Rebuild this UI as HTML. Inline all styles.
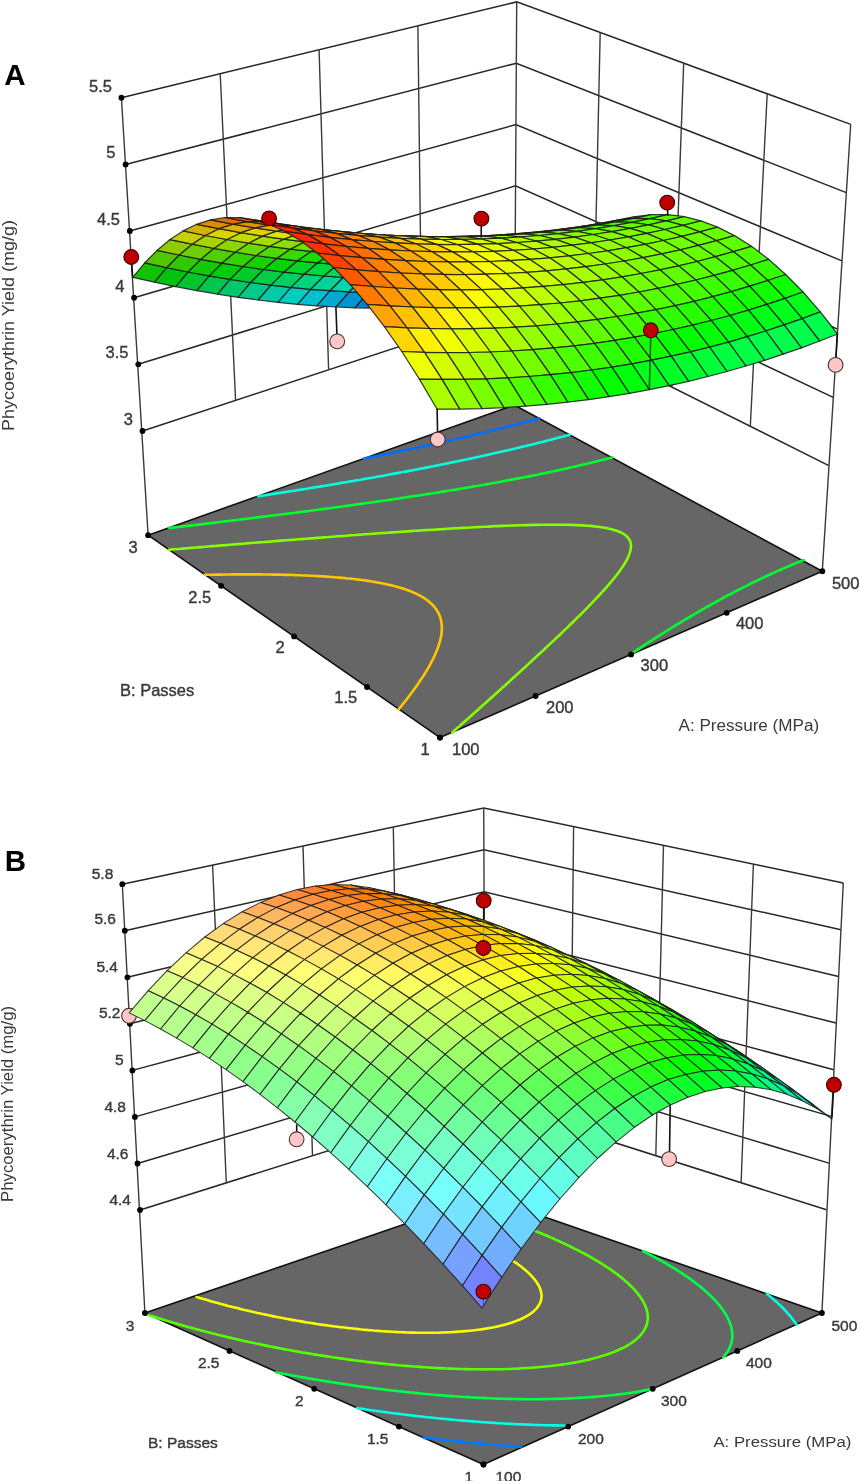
<!DOCTYPE html>
<html><head><meta charset="utf-8"><style>
html,body{margin:0;padding:0;background:#fff;}
body{width:860px;height:1481px;overflow:hidden;}
svg{display:block;font-family:"Liberation Sans",sans-serif;filter:blur(0.4px);}
</style></head><body><svg width="860" height="1481" viewBox="0 0 860 1481"><path d="M142.5 431L514.7 308.6L828.8 465.6M138.3 364.3L515.1 247.3L833.2 397.4M134.1 297.7L515.5 185.9L837.6 329.1M129.8 231L515.9 124.6L841.9 260.9M125.6 164.4L516.3 63.2L846.3 192.6M121.4 97.7L516.7 1.9L850.7 124.4" stroke="#262626" stroke-width="1.5" fill="none"/><path d="M220.2 73.8L235.6 400.4M600.2 32.5L593.2 347.9M319.1 49.8L328.6 369.8M683.7 63.1L671.8 387.1M417.9 25.9L421.7 339.2M767.2 93.8L750.3 426.4M121.4 97.7L148.1 535.2M516.7 1.9L514.2 405M850.7 124.4L822.3 571.2" stroke="#3a3a3a" stroke-width="1.4" fill="none"/><polygon points="440,737.6 822.3,571.2 514.2,405 148.1,535.2" fill="#666666" stroke="#111" stroke-width="1.6" stroke-linejoin="round"/><path d="M364.3 458.6L363.7 458.7M367.9 457.8L364.3 458.6M371.5 457.1L367.9 457.8M375.1 456.4L371.5 457.1M378.6 455.7L377.1 456M377.1 456L375.1 456.4M382.2 455L378.6 455.7M385.8 454.3L382.2 455M389.3 453.5L385.8 454.3M392.9 452.8L390.8 453.2M390.8 453.2L389.3 453.5M396.4 452.1L392.9 452.8M399.9 451.3L396.4 452.1M403.4 450.6L399.9 451.3M407 449.9L404.8 450.3M404.8 450.3L403.4 450.6M410.5 449.1L407 449.9M413.9 448.4L410.5 449.1M417.4 447.6L413.9 448.4M420.9 446.9L419.3 447.2M419.3 447.2L417.4 447.6M424.3 446.2L420.9 446.9M427.8 445.4L424.3 446.2M431.2 444.6L427.8 445.4M434.7 443.9L434.2 444M434.2 444L431.2 444.6M438.1 443.1L434.7 443.9M441.5 442.4L438.1 443.1M444.9 441.6L441.5 442.4M448.3 440.8L444.9 441.6M451.7 440.1L449.8 440.5M449.8 440.5L448.3 440.8M455.1 439.3L451.7 440.1M458.4 438.5L455.1 439.3M461.8 437.8L458.4 438.5M465.1 437L461.8 437.8M468.4 436.2L466 436.8M466 436.8L465.1 437M471.8 435.4L468.4 436.2M475.1 434.6L471.8 435.4M478.4 433.8L475.1 434.6M481.7 433L478.4 433.8M485 432.3L483.1 432.7M483.1 432.7L481.7 433M488.2 431.5L485 432.3M491.5 430.7L488.2 431.5M494.7 429.9L491.5 430.7M498 429.1L494.7 429.9M501.2 428.2L498 429.1M504.4 427.4L501.3 428.2M501.3 428.2L501.2 428.2M507.7 426.6L504.4 427.4M510.9 425.8L507.7 426.6M514 425L510.9 425.8M517.2 424.2L514 425M520.4 423.4L517.2 424.2M523.6 422.5L521 423.2M521 423.2L520.4 423.4M526.7 421.7L523.6 422.5M529.8 420.9L526.7 421.7M533 420L529.8 420.9M536.1 419.2L533 420M539.2 418.4L536.1 419.2" stroke="#006dff" stroke-width="2.6" fill="none" stroke-linecap="round"/><path d="M259.5 496.1L258.3 496.2M263.5 495.5L259.5 496.1M267.5 494.9L263.5 495.5M271.5 494.2L268.9 494.6M268.9 494.6L267.5 494.9M275.4 493.6L271.5 494.2M279.4 493L275.4 493.6M283.3 492.4L279.6 493M279.6 493L279.4 493M287.3 491.8L283.3 492.4M291.2 491.2L290.4 491.3M290.4 491.3L287.3 491.8M295.1 490.6L291.2 491.2M299.1 489.9L295.1 490.6M303 489.3L301.3 489.6M301.3 489.6L299.1 489.9M306.9 488.7L303 489.3M310.8 488L306.9 488.7M314.7 487.4L312.3 487.8M312.3 487.8L310.8 488M318.6 486.8L314.7 487.4M322.4 486.1L318.6 486.8M326.3 485.5L323.4 486M323.4 486L322.4 486.1M330.2 484.9L326.3 485.5M334 484.2L330.2 484.9M337.9 483.6L334.6 484.1M334.6 484.1L334 484.2M341.7 482.9L337.9 483.6M345.5 482.3L341.7 482.9M349.3 481.6L346 482.2M346 482.2L345.5 482.3M353.1 481L349.3 481.6M356.9 480.3L353.1 481M360.7 479.7L357.5 480.2M357.5 480.2L356.9 480.3M364.5 479L360.7 479.7M368.3 478.3L364.5 479M372.1 477.7L369.1 478.2M369.1 478.2L368.3 478.3M375.8 477L372.1 477.7M379.6 476.3L375.8 477M383.3 475.7L381 476.1M381 476.1L379.6 476.3M387 475L383.3 475.7M390.8 474.3L387 475M394.5 473.6L393 473.9M393 473.9L390.8 474.3M398.2 472.9L394.5 473.6M401.9 472.3L398.2 472.9M405.5 471.6L405.3 471.6M405.3 471.6L401.9 472.3M409.2 470.9L405.5 471.6M412.9 470.2L409.2 470.9M416.5 469.5L412.9 470.2M420.2 468.8L417.8 469.2M417.8 469.2L416.5 469.5M423.8 468.1L420.2 468.8M427.4 467.4L423.8 468.1M431 466.7L430.6 466.7M430.6 466.7L427.4 467.4M434.7 465.9L431 466.7M438.3 465.2L434.7 465.9M441.8 464.5L438.3 465.2M445.4 463.8L443.8 464.1M443.8 464.1L441.8 464.5M449 463.1L445.4 463.8M452.5 462.3L449 463.1M456.1 461.6L452.5 462.3M459.6 460.9L457.3 461.3M457.3 461.3L456.1 461.6M463.1 460.1L459.6 460.9M466.6 459.4L463.1 460.1M470.1 458.6L466.6 459.4M473.6 457.9L471.3 458.4M471.3 458.4L470.1 458.6M477.1 457.1L473.6 457.9M480.6 456.4L477.1 457.1M484 455.6L480.6 456.4M487.5 454.9L485.8 455.2M485.8 455.2L484 455.6M490.9 454.1L487.5 454.9M494.3 453.3L490.9 454.1M497.7 452.6L494.3 453.3M501.1 451.8L501 451.8M501 451.8L497.7 452.6M504.5 451L501.1 451.8M507.9 450.2L504.5 451M511.3 449.5L507.9 450.2M514.6 448.7L511.3 449.5M518 447.9L517 448.1M517 448.1L514.6 448.7M521.3 447.1L518 447.9M524.6 446.3L521.3 447.1M527.9 445.5L524.6 446.3M531.2 444.7L527.9 445.5M534.5 443.9L534.1 444M534.1 444L531.2 444.7M537.8 443.1L534.5 443.9M541 442.3L537.8 443.1M544.3 441.4L541 442.3M547.5 440.6L544.3 441.4M550.7 439.8L547.5 440.6M553.9 439L552.6 439.3M552.6 439.3L550.7 439.8M557.1 438.1L553.9 439M560.3 437.3L557.1 438.1M563.5 436.5L560.3 437.3M566.7 435.6L563.5 436.5M569.8 434.8L566.7 435.6" stroke="#00ffdf" stroke-width="2.6" fill="none" stroke-linecap="round"/><path d="M172.5 527.6L169.4 527.9M176.8 527.1L172.5 527.6M181.1 526.6L178.6 526.9M178.6 526.9L176.8 527.1M185.4 526.1L181.1 526.6M189.7 525.6L187.9 525.8M187.9 525.8L185.4 526.1M194 525.1L189.7 525.6M198.3 524.6L197.1 524.7M197.1 524.7L194 525.1M202.5 524.1L198.3 524.6M206.8 523.6L206.4 523.6M206.4 523.6L202.5 524.1M211.1 523.1L206.8 523.6M215.4 522.6L211.1 523.1M219.6 522L215.7 522.5M215.7 522.5L215.4 522.6M223.9 521.5L219.6 522M228.1 521L225 521.4M225 521.4L223.9 521.5M232.4 520.5L228.1 521M236.6 520L234.3 520.3M234.3 520.3L232.4 520.5M240.8 519.5L236.6 520M245.1 519L243.7 519.1M243.7 519.1L240.8 519.5M249.3 518.5L245.1 519M253.5 517.9L253.1 518M253.1 518L249.3 518.5M257.7 517.4L253.5 517.9M261.9 516.9L257.7 517.4M266.1 516.4L262.5 516.8M262.5 516.8L261.9 516.9M270.3 515.8L266.1 516.4M274.5 515.3L271.9 515.6M271.9 515.6L270.3 515.8M278.7 514.8L274.5 515.3M282.9 514.3L281.4 514.5M281.4 514.5L278.7 514.8M287.1 513.7L282.9 514.3M291.2 513.2L290.9 513.2M290.9 513.2L287.1 513.7M295.4 512.7L291.2 513.2M299.5 512.1L295.4 512.7M303.7 511.6L300.4 512M300.4 512L299.5 512.1M307.8 511.1L303.7 511.6M312 510.5L310 510.8M310 510.8L307.8 511.1M316.1 510L312 510.5M320.2 509.4L319.6 509.5M319.6 509.5L316.1 510M324.3 508.9L320.2 509.4M328.4 508.3L324.3 508.9M332.5 507.8L329.3 508.2M329.3 508.2L328.4 508.3M336.6 507.2L332.5 507.8M340.7 506.7L339 506.9M339 506.9L336.6 507.2M344.8 506.1L340.7 506.7M348.9 505.6L348.8 505.6M348.8 505.6L344.8 506.1M352.9 505L348.9 505.6M357 504.4L352.9 505M361 503.9L358.6 504.2M358.6 504.2L357 504.4M365.1 503.3L361 503.9M369.1 502.7L368.5 502.8M368.5 502.8L365.1 503.3M373.1 502.2L369.1 502.7M377.2 501.6L373.1 502.2M630.1 654.6L631.6 653.6M381.2 501L378.5 501.4M378.5 501.4L377.2 501.6M634.2 651.8L631.6 653.6M385.2 500.5L381.2 501M636.9 650.1L634.2 651.8M389.2 499.9L388.5 500M388.5 500L385.2 500.5M639.5 648.4L636.9 650.1M393.2 499.3L389.2 499.9M642.1 646.6L639.5 648.4M397.1 498.7L393.2 499.3M643.4 645.8L642.1 646.6M643.4 645.8L644.7 644.9M401.1 498.1L398.7 498.5M398.7 498.5L397.1 498.7M647.4 643.2L644.7 644.9M405.1 497.5L401.1 498.1M650 641.5L647.4 643.2M409 496.9L408.9 496.9M408.9 496.9L405.1 497.5M652.6 639.8L650 641.5M413 496.3L409 496.9M655.3 638.1L652.6 639.8M416.9 495.7L413 496.3M657.7 636.6L655.3 638.1M657.7 636.6L657.9 636.5M420.8 495.1L419.3 495.4M419.3 495.4L416.9 495.7M660.5 634.8L657.9 636.5M424.7 494.5L420.8 495.1M663.2 633.1L660.5 634.8M428.6 493.9L424.7 494.5M665.8 631.5L663.2 633.1M432.5 493.3L429.7 493.7M429.7 493.7L428.6 493.9M668.4 629.8L665.8 631.5M436.4 492.7L432.5 493.3M671.1 628.2L668.4 629.8M440.3 492.1L436.4 492.7M673.1 627L671.1 628.2M673.1 627L673.7 626.6M444.2 491.4L440.3 492.1M440.3 492.1L440.3 492.1M676.4 624.9L673.7 626.6M448 490.8L444.2 491.4M679 623.3L676.4 624.9M451.9 490.2L451.1 490.3M451.1 490.3L448 490.8M681.7 621.7L679 623.3M455.7 489.6L451.9 490.2M684.3 620.1L681.7 621.7M459.5 488.9L455.7 489.6M687 618.5L684.3 620.1M463.4 488.3L462 488.5M462 488.5L459.5 488.9M689.7 617L687 618.5M467.2 487.6L463.4 488.3M690.4 616.5L689.7 617M690.4 616.5L692.3 615.4M471 487L467.2 487.6M695 613.8L692.3 615.4M474.7 486.3L473.1 486.6M473.1 486.6L471 487M697.6 612.3L695 613.8M478.5 485.7L474.7 486.3M700.3 610.7L697.6 612.3M482.3 485L478.5 485.7M703 609.2L700.3 610.7M486 484.4L484.4 484.7M484.4 484.7L482.3 485M705.7 607.7L703 609.2M489.8 483.7L486 484.4M708.4 606.1L705.7 607.7M493.5 483L489.8 483.7M710.8 604.8L708.4 606.1M710.8 604.8L711.1 604.6M497.2 482.4L496 482.6M496 482.6L493.5 483M713.8 603.1L711.1 604.6M500.9 481.7L497.2 482.4M716.5 601.6L713.8 603.1M504.6 481L500.9 481.7M719.2 600.1L716.5 601.6M508.3 480.3L507.8 480.4M507.8 480.4L504.6 481M721.9 598.7L719.2 600.1M511.9 479.6L508.3 480.3M724.6 597.2L721.9 598.7M515.6 478.9L511.9 479.6M727.3 595.7L724.6 597.2M519.2 478.2L515.6 478.9M730 594.3L727.3 595.7M522.9 477.5L520.1 478.1M520.1 478.1L519.2 478.2M732.8 592.9L730 594.3M526.5 476.8L522.9 477.5M735.5 591.4L732.8 592.9M530.1 476.1L526.5 476.8M738.2 590L735.5 591.4M738.2 590L738.3 590M533.7 475.4L532.7 475.6M532.7 475.6L530.1 476.1M741 588.6L738.3 590M537.2 474.7L533.7 475.4M743.8 587.2L741 588.6M540.8 473.9L537.2 474.7M746.6 585.8L743.8 587.2M544.3 473.2L540.8 473.9M749.3 584.4L746.6 585.8M547.9 472.5L545.8 472.9M545.8 472.9L544.3 473.2M752.1 583L749.3 584.4M551.4 471.7L547.9 472.5M754.9 581.7L752.1 583M554.9 471L551.4 471.7M757.7 580.3L754.9 581.7M558.4 470.2L554.9 471M760.5 579L757.7 580.3M561.8 469.4L559.6 469.9M559.6 469.9L558.4 470.2M763.3 577.6L760.5 579M565.3 468.7L561.8 469.4M766.1 576.3L763.3 577.6M568.7 467.9L565.3 468.7M769 575L766.1 576.3M572.2 467.1L568.7 467.9M771.8 573.7L769 575M575.6 466.4L574.2 466.7M574.2 466.7L572.2 467.1M774.6 572.4L771.8 573.7M579 465.6L575.6 466.4M777.5 571.1L774.6 572.4M582.4 464.8L579 465.6M780.4 569.8L777.5 571.1M585.7 464L582.4 464.8M783.2 568.6L780.4 569.8M589.1 463.2L585.7 464M786.1 567.3L783.2 568.6M592.4 462.4L589.9 463M589.9 463L589.1 463.2M789 566.1L786.1 567.3M595.7 461.6L592.4 462.4M791.9 564.8L789 566.1M599 460.7L595.7 461.6M794.8 563.6L791.9 564.8M602.3 459.9L599 460.7M797.7 562.4L794.8 563.6M605.6 459.1L602.3 459.9M800.7 561.2L797.7 562.4M608.8 458.2L607.2 458.7M607.2 458.7L605.6 459.1M803.6 560L800.7 561.2M612.1 457.4L608.8 458.2" stroke="#00ff2d" stroke-width="2.6" fill="none" stroke-linecap="round"/><path d="M173.6 549.3L172.4 549.4M172.4 549.4L169 549.7M178.1 549L173.6 549.3M182.7 548.6L180.6 548.8M180.6 548.8L178.1 549M452.3 732.5L453.4 731.5M187.3 548.2L182.7 548.6M455.9 729.3L453.4 731.5M191.9 547.8L188.8 548.1M188.8 548.1L187.3 548.2M458.5 727L455.9 729.3M196.4 547.5L191.9 547.8M459.2 726.4L458.5 727M459.2 726.4L461 724.8M201 547.1L196.9 547.4M196.9 547.4L196.4 547.5M463.5 722.6L461 724.8M205.6 546.7L205.1 546.8M205.1 546.8L201 547.1M466 720.4L463.5 722.6M210.1 546.3L205.6 546.7M466.1 720.2L466 720.4M466.1 720.2L468.4 718.2M214.7 546L213.2 546.1M213.2 546.1L210.1 546.3M470.9 716L468.4 718.2M219.3 545.6L214.7 546M472.9 714.2L470.9 716M472.9 714.2L473.4 713.8M223.8 545.2L221.4 545.4M221.4 545.4L219.3 545.6M475.8 711.6L473.4 713.8M228.4 544.9L223.8 545.2M478.3 709.4L475.8 711.6M232.9 544.5L229.5 544.8M229.5 544.8L228.4 544.9M479.6 708.2L478.3 709.4M479.6 708.2L480.7 707.2M237.5 544.1L232.9 544.5M483.1 705L480.7 707.2M242 543.8L237.5 544.1M237.5 544.1L237.5 544.1M485.6 702.9L483.1 705M246.6 543.4L245.6 543.5M245.6 543.5L242 543.8M486.3 702.3L485.6 702.9M486.3 702.3L488 700.7M251.2 543L246.6 543.4M490.4 698.5L488 700.7M255.7 542.7L253.7 542.8M253.7 542.8L251.2 543M492.8 696.4L490.4 698.5M260.3 542.3L255.7 542.7M492.8 696.4L492.8 696.4M492.8 696.4L495.2 694.2M264.8 542L261.7 542.2M261.7 542.2L260.3 542.3M497.6 692.1L495.2 694.2M269.4 541.6L264.8 542M499.3 690.6L497.6 692.1M499.3 690.6L499.9 689.9M273.9 541.2L269.7 541.6M269.7 541.6L269.4 541.6M502.3 687.8L499.9 689.9M278.5 540.9L277.7 540.9M277.7 540.9L273.9 541.2M504.7 685.7L502.3 687.8M283 540.5L278.5 540.9M505.7 684.8L504.7 685.7M505.7 684.8L507 683.5M287.5 540.2L285.7 540.3M285.7 540.3L283 540.5M509.4 681.4L507 683.5M292.1 539.8L287.5 540.2M511.7 679.3L509.4 681.4M296.6 539.5L293.7 539.7M293.7 539.7L292.1 539.8M511.9 679.1L511.7 679.3M511.9 679.1L514 677.2M301.2 539.1L296.6 539.5M516.3 675.1L514 677.2M305.7 538.8L301.7 539.1M301.7 539.1L301.2 539.1M518.1 673.5L516.3 675.1M518.1 673.5L518.7 673M310.3 538.4L309.6 538.5M309.6 538.5L305.7 538.8M521 670.9L518.7 673M314.8 538.1L310.3 538.4M523.3 668.8L521 670.9M319.4 537.7L317.5 537.8M317.5 537.8L314.8 538.1M524.2 667.9L523.3 668.8M524.2 667.9L525.5 666.7M323.9 537.4L319.4 537.7M527.8 664.6L525.5 666.7M328.5 537L325.4 537.2M325.4 537.2L323.9 537.4M530.1 662.5L527.8 664.6M333 536.7L328.5 537M530.2 662.4L530.1 662.5M530.2 662.4L532.3 660.4M337.5 536.3L333.3 536.7M333.3 536.7L333 536.7M534.6 658.3L532.3 660.4M342.1 536L341.1 536.1M341.1 536.1L337.5 536.3M536.1 656.9L534.6 658.3M536.1 656.9L536.8 656.3M346.6 535.7L342.1 536M539.1 654.2L536.8 656.3M351.2 535.3L348.9 535.5M348.9 535.5L346.6 535.7M541.3 652.1L539.1 654.2M355.7 535L351.2 535.3M542 651.5L541.3 652.1M542 651.5L543.5 650.1M360.3 534.7L356.7 534.9M356.7 534.9L355.7 535M545.7 648L543.5 650.1M364.8 534.3L364.5 534.3M364.5 534.3L360.3 534.7M547.6 646.2L545.7 648M547.6 646.2L547.9 645.9M369.4 534L364.8 534.3M550.1 643.9L547.9 645.9M373.9 533.7L372.3 533.8M372.3 533.8L369.4 534M552.3 641.8L550.1 643.9M378.5 533.3L373.9 533.7M553.2 640.9L552.3 641.8M553.2 640.9L554.5 639.8M383 533L380 533.2M380 533.2L378.5 533.3M556.6 637.7L554.5 639.8M387.6 532.7L383 533M558.7 635.8L556.6 637.7M558.7 635.8L558.8 635.7M392.1 532.4L387.7 532.7M387.7 532.7L387.6 532.7M560.9 633.7L558.8 635.7M396.7 532.1L395.4 532.2M395.4 532.2L392.1 532.4M563 631.6L560.9 633.7M401.2 531.8L396.7 532.1M564.1 630.6L563 631.6M564.1 630.6L565.1 629.6M405.8 531.5L403 531.6M403 531.6L401.2 531.8M567.2 627.6L565.1 629.6M410.4 531.1L405.8 531.5M569.3 625.6L567.2 627.6M569.3 625.6L569.4 625.5M414.9 530.8L410.6 531.1M410.6 531.1L410.4 531.1M571.4 623.5L569.4 625.5M419.5 530.5L418.2 530.6M418.2 530.6L414.9 530.8M573.5 621.5L571.4 623.5M424.1 530.2L419.5 530.5M574.4 620.6L573.5 621.5M574.4 620.6L575.6 619.4M428.6 530L425.7 530.1M425.7 530.1L424.1 530.2M577.6 617.4L575.6 619.4M433.2 529.7L428.6 530M579.3 615.7L577.6 617.4M579.3 615.7L579.7 615.4M437.8 529.4L433.2 529.7M433.2 529.7L433.2 529.7M581.7 613.4L579.7 615.4M442.4 529.1L440.7 529.2M440.7 529.2L437.8 529.4M583.7 611.4L581.7 613.4M447 528.8L442.4 529.1M584.2 610.9L583.7 611.4M584.2 610.9L585.7 609.3M451.6 528.5L448.1 528.7M448.1 528.7L447 528.8M587.7 607.3L585.7 609.3M456.2 528.3L455.5 528.3M455.5 528.3L451.6 528.5M588.8 606.2L587.7 607.3M588.8 606.2L589.6 605.3M460.8 528L456.2 528.3M591.6 603.3L589.6 605.3M465.4 527.7L462.8 527.9M462.8 527.9L460.8 528M593.3 601.5L591.6 603.3M593.3 601.5L593.5 601.3M470.1 527.5L465.4 527.7M595.5 599.2L593.5 601.3M474.7 527.2L470.1 527.5M470.1 527.5L470.1 527.5M597.4 597.2L595.5 599.2M479.3 527L477.3 527.1M477.3 527.1L474.7 527.2M597.6 597L597.4 597.2M597.6 597L599.3 595.2M484 526.8L479.3 527M601.1 593.2L599.3 595.2M488.7 526.6L484.5 526.7M484.5 526.7L484 526.8M601.7 592.5L601.1 593.2M601.7 592.5L603 591.1M493.3 526.3L491.6 526.4M491.6 526.4L488.7 526.6M604.8 589.1L603 591.1M498 526.1L493.3 526.3M605.7 588.2L604.8 589.1M605.7 588.2L606.6 587.1M502.7 525.9L498.7 526.1M498.7 526.1L498 526.1M608.4 585L606.6 587.1M507.5 525.7L505.7 525.8M505.7 525.8L502.7 525.9M609.4 583.9L608.4 585M609.4 583.9L610.1 583M512.2 525.5L507.5 525.7M611.9 580.9L610.1 583M517 525.4L512.6 525.5M512.6 525.5L512.2 525.5M612.8 579.8L611.9 580.9M612.8 579.8L613.6 578.8M521.8 525.2L519.4 525.3M519.4 525.3L517 525.4M615.2 576.8L613.6 578.8M526.5 525.1L526.2 525.1M526.2 525.1L521.8 525.2M616.1 575.7L615.2 576.8M616.1 575.7L616.9 574.7M531.4 525L526.5 525.1M618.5 572.6L616.9 574.7M536.3 524.9L532.8 524.9M532.8 524.9L531.4 525M619 571.8L618.5 572.6M619 571.8L620 570.4M541.2 524.8L539.4 524.8M539.4 524.8L536.3 524.9M621.5 568.3L620 570.4M546.1 524.7L545.8 524.7M545.8 524.7L541.2 524.8M621.7 568.1L621.5 568.3M621.7 568.1L623 566.1M551.1 524.7L546.1 524.7M624.1 564.4L623 566.1M624.1 564.4L624.4 564M556.1 524.7L552.2 524.7M552.2 524.7L551.1 524.7M625.7 561.7L624.4 564M561.2 524.7L558.4 524.7M558.4 524.7L556.1 524.7M626.2 561L625.7 561.7M626.2 561L626.9 559.5M566.4 524.8L564.4 524.8M564.4 524.8L561.2 524.7M627.9 557.6L626.9 559.5M627.9 557.6L628.1 557.2M571.7 524.9L570.3 524.9M570.3 524.9L566.4 524.8M629.1 554.8L628.1 557.2M577.1 525.1L576.1 525.1M576.1 525.1L571.7 524.9M629.2 554.4L629.1 554.8M629.2 554.4L629.9 552.4M582.6 525.4L581.6 525.4M581.6 525.4L577.1 525.1M630.2 551.4L629.9 552.4M630.2 551.4L630.6 549.8M588.4 525.8L587 525.7M587 525.7L582.6 525.4M630.8 548.6L630.6 549.8M630.8 548.6L630.9 547.1M594.4 526.4L592.2 526.1M592.2 526.1L588.4 525.8M631 545.9L630.9 547.1M631 545.9L630.8 544.1M600.8 527.2L597.1 526.7M597.1 526.7L594.4 526.4M630.8 543.5L630.8 544.1M630.8 543.5L630.1 541.2M630.1 541.2L629.9 540.7M608.2 528.5L606.1 528M606.1 528L601.7 527.3M601.7 527.3L600.8 527.2M629 539L629.9 540.7M629 539L627.5 537.1M627.5 537.1L625.9 535.6M618.6 531.5L617.5 531M617.5 531L614 529.9M614 529.9L610.2 528.9M610.2 528.9L608.2 528.5M625.6 535.3L625.9 535.6M625.6 535.3L623.3 533.7M623.3 533.7L620.6 532.3M620.6 532.3L618.6 531.5" stroke="#86ff00" stroke-width="2.6" fill="none" stroke-linecap="round"/><path d="M400.7 706.9L398.6 709.4M210.1 574.7L205.5 574.8M205.5 574.8L205.1 574.8M402 705.2L400.7 706.9M402 705.2L402.7 704.4M215.2 574.6L212.2 574.7M212.2 574.7L210.1 574.7M404.7 701.8L402.7 704.4M220.3 574.6L218.9 574.6M218.9 574.6L215.2 574.6M405.6 700.8L404.7 701.8M405.6 700.8L406.7 699.3M225.5 574.5L220.3 574.6M408.6 696.8L406.7 699.3M230.6 574.5L225.6 574.5M225.6 574.5L225.5 574.5M408.9 696.4L408.6 696.8M408.9 696.4L410.5 694.2M235.8 574.4L232.2 574.4M232.2 574.4L230.6 574.5M412.2 692L410.5 694.2M412.2 692L412.5 691.7M240.9 574.4L238.8 574.4M238.8 574.4L235.8 574.4M414.3 689.1L412.5 691.7M246.1 574.4L245.3 574.4M245.3 574.4L240.9 574.4M415.3 687.8L414.3 689.1M415.3 687.8L416.2 686.5M251.3 574.4L246.1 574.4M418 683.9L416.2 686.5M256.6 574.4L251.7 574.4M251.7 574.4L251.3 574.4M418.2 683.6L418 683.9M418.2 683.6L419.7 681.3M261.8 574.4L258.1 574.4M258.1 574.4L256.6 574.4M420.9 679.5L419.7 681.3M420.9 679.5L421.5 678.7M267.1 574.5L264.4 574.5M264.4 574.5L261.8 574.4M423.2 676.1L421.5 678.7M272.4 574.6L270.6 574.5M270.6 574.5L267.1 574.5M423.6 675.6L423.2 676.1M423.6 675.6L424.8 673.5M277.8 574.6L276.8 574.6M276.8 574.6L272.4 574.6M426 671.6L424.8 673.5M426 671.6L426.5 670.8M283.2 574.8L282.9 574.7M282.9 574.7L277.8 574.6M428 668.2L426.5 670.8M288.6 574.9L283.2 574.8M428.3 667.8L428 668.2M428.3 667.8L429.6 665.5M294 575L289 574.9M289 574.9L288.6 574.9M430.4 664.1L429.6 665.5M430.4 664.1L431 662.8M299.5 575.2L295 575.1M295 575.1L294 575M432.3 660.4L431 662.8M432.3 660.4L432.5 660.1M305.1 575.5L300.9 575.3M300.9 575.3L299.5 575.2M433.8 657.3L432.5 660.1M310.6 575.7L306.7 575.5M306.7 575.5L305.1 575.5M434.1 656.8L433.8 657.3M434.1 656.8L435.1 654.5M316.3 576L312.5 575.8M312.5 575.8L310.6 575.7M435.7 653.3L435.1 654.5M435.7 653.3L436.3 651.7M322 576.3L318.1 576.1M318.1 576.1L316.3 576M437.1 649.9L436.3 651.7M437.1 649.9L437.5 648.8M327.8 576.7L323.7 576.4M323.7 576.4L322 576.3M438.3 646.6L437.5 648.8M438.3 646.6L438.5 645.9M333.7 577.1L329.2 576.8M329.2 576.8L327.8 576.7M439.3 643.4L438.5 645.9M439.3 643.4L439.5 643M339.6 577.6L334.6 577.2M334.6 577.2L333.7 577.1M440.2 640.2L439.5 643M440.2 640.2L440.3 639.9M345.7 578.2L345.2 578.1M345.2 578.1L339.9 577.6M339.9 577.6L339.6 577.6M440.9 637.2L440.3 639.9M440.9 637.2L441 636.8M351.9 578.8L350.3 578.6M350.3 578.6L345.7 578.2M441.4 634.2L441 636.8M441.4 634.2L441.5 633.6M358.3 579.6L355.3 579.2M355.3 579.2L351.9 578.8M441.7 631.3L441.5 633.6M441.7 631.3L441.8 630.3M364.9 580.4L360.2 579.8M360.2 579.8L358.3 579.6M441.8 628.5L441.8 630.3M441.8 628.5L441.8 626.8M371.7 581.5L369.7 581.1M369.7 581.1L365 580.4M365 580.4L364.9 580.4M441.8 625.8L441.8 626.8M441.8 625.8L441.5 623.2M441.5 623.2L441.5 623.2M378.8 582.7L378.8 582.7M378.8 582.7L374.3 581.9M374.3 581.9L371.7 581.5M441.1 620.7L441.5 623.2M441.1 620.7L440.7 619.2M386.5 584.2L383.1 583.5M383.1 583.5L378.8 582.7M440.5 618.2L440.7 619.2M440.5 618.2L439.7 615.8M439.7 615.8L439.2 614.7M394.8 586.2L391.4 585.3M391.4 585.3L387.3 584.4M387.3 584.4L386.5 584.2M438.7 613.6L439.2 614.7M438.7 613.6L437.5 611.4M437.5 611.4L436.3 609.4M404.7 589.1L402.8 588.5M402.8 588.5L399.1 587.4M399.1 587.4L395.3 586.3M395.3 586.3L394.8 586.2M436.1 609.2L436.3 609.4M436.1 609.2L434.6 607.2M434.6 607.2L432.9 605.2M432.9 605.2L431 603.4M431 603.4L428.9 601.6M428.9 601.6L426.9 600M420.9 596.2L418.9 595.1M418.9 595.1L416 593.6M416 593.6L412.9 592.3M412.9 592.3L409.7 590.9M409.7 590.9L406.3 589.7M406.3 589.7L404.7 589.1M426.7 599.8L426.9 600M426.7 599.8L424.2 598.2M424.2 598.2L421.7 596.6M421.7 596.6L420.9 596.2" stroke="#ffc600" stroke-width="2.6" fill="none" stroke-linecap="round"/><g fill="#000"><circle cx="440" cy="737.6" r="2.9"/><circle cx="440" cy="737.6" r="2.9"/><circle cx="535.6" cy="696" r="2.9"/><circle cx="367" cy="687" r="2.9"/><circle cx="631.1" cy="654.4" r="2.9"/><circle cx="294.1" cy="636.4" r="2.9"/><circle cx="726.7" cy="612.8" r="2.9"/><circle cx="221.1" cy="585.8" r="2.9"/><circle cx="822.3" cy="571.2" r="2.9"/><circle cx="148.1" cy="535.2" r="2.9"/><circle cx="142.5" cy="431" r="2.9"/><circle cx="138.3" cy="364.3" r="2.9"/><circle cx="134.1" cy="297.7" r="2.9"/><circle cx="129.8" cy="231" r="2.9"/><circle cx="125.6" cy="164.4" r="2.9"/><circle cx="121.4" cy="97.7" r="2.9"/></g><g stroke="#1a1a1a" stroke-width="1.25" stroke-linejoin="round" stroke-opacity="0.85"><polygon points="511.9,285.5 529.1,283.1 514.8,299.4 497.8,301.7" fill="#0000e1"/><polygon points="494.7,287.6 511.9,285.5 497.8,301.7 480.6,303.6" fill="#0004df"/><polygon points="526.3,271 543.5,268.4 529.1,283.1 511.9,285.5" fill="#004fe7"/><polygon points="477.2,289.3 494.7,287.6 480.6,303.6 463.3,305.2" fill="#0013de"/><polygon points="508.9,273.1 526.3,271 511.9,285.5 494.7,287.6" fill="#005be5"/><polygon points="459.5,290.7 477.2,289.3 463.3,305.2 445.7,306.5" fill="#0022dc"/><polygon points="541,258 558.3,255.4 543.5,268.4 526.3,271" fill="#00a4ed"/><polygon points="491.4,275 508.9,273.1 494.7,287.6 477.2,289.3" fill="#0068e3"/><polygon points="441.7,291.8 459.5,290.7 445.7,306.5 427.9,307.4" fill="#0033da"/><polygon points="523.5,260.4 541,258 526.3,271 508.9,273.1" fill="#00afeb"/><polygon points="473.6,276.5 491.4,275 477.2,289.3 459.5,290.7" fill="#0077e2"/><polygon points="423.6,292.5 441.7,291.8 427.9,307.4 410,308.1" fill="#0044d9"/><polygon points="555.9,246.8 573.2,244 558.3,255.4 541,258" fill="#00f4f2"/><polygon points="505.8,262.4 523.5,260.4 508.9,273.1 491.4,275" fill="#00bbe9"/><polygon points="455.7,277.7 473.6,276.5 459.5,290.7 441.7,291.8" fill="#0086e0"/><polygon points="405.3,292.8 423.6,292.5 410,308.1 391.8,308.3" fill="#0057d7"/><polygon points="538.3,249.3 555.9,246.8 541,258 523.5,260.4" fill="#00f2e4"/><polygon points="488,264 505.8,262.4 491.4,275 473.6,276.5" fill="#00c9e8"/><polygon points="437.5,278.5 455.7,277.7 441.7,291.8 423.6,292.5" fill="#0097de"/><polygon points="571,237.4 588.5,234.4 573.2,244 555.9,246.8" fill="#00fcb2"/><polygon points="386.8,292.9 405.3,292.8 391.8,308.3 373.4,308.2" fill="#006ad5"/><polygon points="520.6,251.4 538.3,249.3 523.5,260.4 505.8,262.4" fill="#00f0d5"/><polygon points="469.9,265.3 488,264 473.6,276.5 455.7,277.7" fill="#00d8e6"/><polygon points="419.1,279 437.5,278.5 423.6,292.5 405.3,292.8" fill="#00a9dc"/><polygon points="553.4,240 571,237.4 555.9,246.8 538.3,249.3" fill="#00faa5"/><polygon points="368.1,292.5 386.8,292.9 373.4,308.2 354.8,307.8" fill="#007fd4"/><polygon points="502.6,253.3 520.6,251.4 505.8,262.4 488,264" fill="#00efc5"/><polygon points="586.4,229.7 603.9,226.6 588.5,234.4 571,237.4" fill="#00ff74"/><polygon points="451.7,266.3 469.9,265.3 455.7,277.7 437.5,278.5" fill="#00e4e1"/><polygon points="535.6,242.3 553.4,240 538.3,249.3 520.6,251.4" fill="#00f897"/><polygon points="400.5,279.1 419.1,279 405.3,292.8 386.8,292.9" fill="#00bbdb"/><polygon points="484.5,254.7 502.6,253.3 488,264 469.9,265.3" fill="#00edb3"/><polygon points="349.1,291.8 368.1,292.5 354.8,307.8 335.9,307" fill="#0094d2"/><polygon points="568.7,232.6 586.4,229.7 571,237.4 553.4,240" fill="#00ff69"/><polygon points="433.2,266.9 451.7,266.3 437.5,278.5 419.1,279" fill="#00e2cd"/><polygon points="517.5,244.3 535.6,242.3 520.6,251.4 502.6,253.3" fill="#00f687"/><polygon points="381.7,278.9 400.5,279.1 386.8,292.9 368.1,292.5" fill="#00cfd9"/><polygon points="602,224 619.6,220.6 603.9,226.6 586.4,229.7" fill="#00ff3b"/><polygon points="466.2,255.8 484.5,254.7 469.9,265.3 451.7,266.3" fill="#00eba1"/><polygon points="329.9,290.7 349.1,291.8 335.9,307 316.8,305.8" fill="#00aad0"/><polygon points="550.8,235.1 568.7,232.6 553.4,240 535.6,242.3" fill="#00ff5c"/><polygon points="414.5,267.2 433.2,266.9 419.1,279 400.5,279.1" fill="#00e1b7"/><polygon points="499.3,245.9 517.5,244.3 502.6,253.3 484.5,254.7" fill="#00f477"/><polygon points="584.2,227 602,224 586.4,229.7 568.7,232.6" fill="#00ff31"/><polygon points="362.6,278.3 381.7,278.9 368.1,292.5 349.1,291.8" fill="#00d7cb"/><polygon points="447.6,256.6 466.2,255.8 451.7,266.3 433.2,266.9" fill="#00e98d"/><polygon points="532.7,237.2 550.8,235.1 535.6,242.3 517.5,244.3" fill="#00ff4e"/><polygon points="310.5,289.3 329.9,290.7 316.8,305.8 297.5,304.3" fill="#00c1cf"/><polygon points="617.8,220.2 635.5,216.6 619.6,220.6 602,224" fill="#00ff0b"/><polygon points="395.6,267.1 414.5,267.2 400.5,279.1 381.7,278.9" fill="#00dfa1"/><polygon points="480.9,247.2 499.3,245.9 484.5,254.7 466.2,255.8" fill="#00f265"/><polygon points="566.3,229.7 584.2,227 568.7,232.6 550.8,235.1" fill="#00ff25"/><polygon points="343.3,277.3 362.6,278.3 349.1,291.8 329.9,290.7" fill="#00d6b2"/><polygon points="428.8,257 447.6,256.6 433.2,266.9 414.5,267.2" fill="#00e778"/><polygon points="514.4,239 532.7,237.2 517.5,244.3 499.3,245.9" fill="#00fd3e"/><polygon points="600,223.4 617.8,220.2 602,224 584.2,227" fill="#00ff02"/><polygon points="290.8,287.4 310.5,289.3 297.5,304.3 277.9,302.3" fill="#00cdc1"/><polygon points="376.5,266.6 395.6,267.1 381.7,278.9 362.6,278.3" fill="#00dd8a"/><polygon points="462.3,248.1 480.9,247.2 466.2,255.8 447.6,256.6" fill="#00f052"/><polygon points="633.8,218.4 651.5,214.6 635.5,216.6 617.8,220.2" fill="#1cff00"/><polygon points="548.1,232.1 566.3,229.7 550.8,235.1 532.7,237.2" fill="#00ff18"/><polygon points="323.8,276 343.3,277.3 329.9,290.7 310.5,289.3" fill="#00d498"/><polygon points="409.8,257 428.8,257 414.5,267.2 395.6,267.1" fill="#00e563"/><polygon points="582,226.3 600,223.4 584.2,227 566.3,229.7" fill="#09ff00"/><polygon points="495.9,240.5 514.4,239 499.3,245.9 480.9,247.2" fill="#00fb2d"/><polygon points="270.8,285.1 290.8,287.4 277.9,302.3 258,300" fill="#00cba5"/><polygon points="615.9,221.8 633.8,218.4 617.8,220.2 600,223.4" fill="#25ff00"/><polygon points="357.1,265.7 376.5,266.6 362.6,278.3 343.3,277.3" fill="#00db71"/><polygon points="529.7,234.1 548.1,232.1 532.7,237.2 514.4,239" fill="#00ff0a"/><polygon points="443.4,248.7 462.3,248.1 447.6,256.6 428.8,257" fill="#00ef3e"/><polygon points="650,218.6 667.8,214.6 651.5,214.6 633.8,218.4" fill="#3cff00"/><polygon points="304,274.2 323.8,276 310.5,289.3 290.8,287.4" fill="#00d27e"/><polygon points="563.7,228.9 582,226.3 566.3,229.7 548.1,232.1" fill="#15ff00"/><polygon points="390.6,256.7 409.8,257 395.6,267.1 376.5,266.6" fill="#00e44c"/><polygon points="477.2,241.6 495.9,240.5 480.9,247.2 462.3,248.1" fill="#00f91a"/><polygon points="597.9,224.9 615.9,221.8 600,223.4 582,226.3" fill="#2fff00"/><polygon points="250.5,282.5 270.8,285.1 258,300 237.9,297.3" fill="#00ca89"/><polygon points="511.2,235.7 529.7,234.1 514.4,239 495.9,240.5" fill="#07ff00"/><polygon points="337.4,264.5 357.1,265.7 343.3,277.3 323.8,276" fill="#00da58"/><polygon points="424.3,248.9 443.4,248.7 428.8,257 409.8,257" fill="#00ed28"/><polygon points="632.1,222.3 650,218.6 633.8,218.4 615.9,221.8" fill="#44ff00"/><polygon points="545.3,231.1 563.7,228.9 548.1,232.1 529.7,234.1" fill="#23ff00"/><polygon points="458.3,242.3 477.2,241.6 462.3,248.1 443.4,248.7" fill="#00f707"/><polygon points="283.9,272.1 304,274.2 290.8,287.4 270.8,285.1" fill="#00d062"/><polygon points="371.1,256 390.6,256.7 376.5,266.6 357.1,265.7" fill="#00e234"/><polygon points="666.4,220.9 684.3,216.6 667.8,214.6 650,218.6" fill="#53ff00"/><polygon points="579.6,227.7 597.9,224.9 582,226.3 563.7,228.9" fill="#3bff00"/><polygon points="492.4,237 511.2,235.7 495.9,240.5 477.2,241.6" fill="#18ff00"/><polygon points="230,279.4 250.5,282.5 237.9,297.3 217.5,294.1" fill="#00c86b"/><polygon points="405,248.7 424.3,248.9 409.8,257 390.6,256.7" fill="#00eb12"/><polygon points="317.5,262.8 337.4,264.5 323.8,276 304,274.2" fill="#00d83e"/><polygon points="614,225.6 632.1,222.3 615.9,221.8 597.9,224.9" fill="#4dff00"/><polygon points="526.7,232.9 545.3,231.1 529.7,234.1 511.2,235.7" fill="#32ff00"/><polygon points="648.5,224.8 666.4,220.9 650,218.6 632.1,222.3" fill="#5aff00"/><polygon points="439.1,242.7 458.3,242.3 443.4,248.7 424.3,248.9" fill="#0ef500"/><polygon points="351.3,254.9 371.1,256 357.1,265.7 337.4,264.5" fill="#00e01b"/><polygon points="263.5,269.5 283.9,272.1 270.8,285.1 250.5,282.5" fill="#00cf46"/><polygon points="683,225.3 700.9,220.8 684.3,216.6 666.4,220.9" fill="#62ff00"/><polygon points="561.1,230.1 579.6,227.7 563.7,228.9 545.3,231.1" fill="#48ff00"/><polygon points="473.4,237.9 492.4,237 477.2,241.6 458.3,242.3" fill="#2bff00"/><polygon points="595.7,228.6 614,225.6 597.9,224.9 579.6,227.7" fill="#58ff00"/><polygon points="385.4,248.1 405,248.7 390.6,256.7 371.1,256" fill="#05e900"/><polygon points="209.1,275.9 230,279.4 217.5,294.1 196.7,290.6" fill="#00c64d"/><polygon points="297.3,260.8 317.5,262.8 304,274.2 283.9,272.1" fill="#00d623"/><polygon points="507.8,234.4 526.7,232.9 511.2,235.7 492.4,237" fill="#43ff00"/><polygon points="630.3,228.4 648.5,224.8 632.1,222.3 614,225.6" fill="#63ff00"/><polygon points="419.7,242.6 439.1,242.7 424.3,248.9 405,248.7" fill="#24f300"/><polygon points="665,229.5 683,225.3 666.4,220.9 648.5,224.8" fill="#69ff00"/><polygon points="331.3,253.3 351.3,254.9 337.4,264.5 317.5,262.8" fill="#00de02"/><polygon points="542.4,232.2 561.1,230.1 545.3,231.1 526.7,232.9" fill="#56ff00"/><polygon points="242.9,266.5 263.5,269.5 250.5,282.5 230,279.4" fill="#00cd29"/><polygon points="699.7,231.9 717.6,227.1 700.9,220.8 683,225.3" fill="#69ff00"/><polygon points="454.2,238.4 473.4,237.9 458.3,242.3 439.1,242.7" fill="#40fd00"/><polygon points="577.1,231.3 595.7,228.6 579.6,227.7 561.1,230.1" fill="#64ff00"/><polygon points="365.6,247.1 385.4,248.1 371.1,256 351.3,254.9" fill="#1de700"/><polygon points="276.8,258.3 297.3,260.8 283.9,272.1 263.5,269.5" fill="#00d407"/><polygon points="188,272 209.1,275.9 196.7,290.6 175.7,286.6" fill="#00c52e"/><polygon points="611.9,231.7 630.3,228.4 614,225.6 595.7,228.6" fill="#6dff00"/><polygon points="488.8,235.5 507.8,234.4 492.4,237 473.4,237.9" fill="#56ff00"/><polygon points="646.8,233.4 665,229.5 648.5,224.8 630.3,228.4" fill="#70ff00"/><polygon points="400.1,242.2 419.7,242.6 405,248.7 385.4,248.1" fill="#3af100"/><polygon points="523.5,233.9 542.4,232.2 526.7,232.9 507.8,234.4" fill="#66ff00"/><polygon points="311.1,251.4 331.3,253.3 317.5,262.8 297.3,260.8" fill="#19dc00"/><polygon points="681.7,236.4 699.7,231.9 683,225.3 665,229.5" fill="#6fff00"/><polygon points="221.9,263.1 242.9,266.5 230,279.4 209.1,275.9" fill="#00cb0c"/><polygon points="716.6,240.7 734.5,235.6 717.6,227.1 699.7,231.9" fill="#68ff00"/><polygon points="434.7,238.6 454.2,238.4 439.1,242.7 419.7,242.6" fill="#55fb00"/><polygon points="558.4,233.6 577.1,231.3 561.1,230.1 542.4,232.2" fill="#72ff00"/><polygon points="345.5,245.8 365.6,247.1 351.3,254.9 331.3,253.3" fill="#37e500"/><polygon points="593.3,234.5 611.9,231.7 595.7,228.6 577.1,231.3" fill="#78ff00"/><polygon points="469.5,236.2 488.8,235.5 473.4,237.9 454.2,238.4" fill="#6aff00"/><polygon points="256.1,255.5 276.8,258.3 263.5,269.5 242.9,266.5" fill="#15d200"/><polygon points="166.5,267.7 188,272 175.7,286.6 154.4,282.2" fill="#00c30f"/><polygon points="628.4,236.9 646.8,233.4 630.3,228.4 611.9,231.7" fill="#79ff00"/><polygon points="380.1,241.4 400.1,242.2 385.4,248.1 365.6,247.1" fill="#52ef00"/><polygon points="504.4,235.2 523.5,233.9 507.8,234.4 488.8,235.5" fill="#78ff00"/><polygon points="663.4,240.5 681.7,236.4 665,229.5 646.8,233.4" fill="#75ff00"/><polygon points="698.5,245.4 716.6,240.7 699.7,231.9 681.7,236.4" fill="#6cff00"/><polygon points="290.5,249.1 311.1,251.4 297.3,260.8 276.8,258.3" fill="#34da00"/><polygon points="733.5,251.7 751.5,246.3 734.5,235.6 716.6,240.7" fill="#5eff00"/><polygon points="539.4,235.5 558.4,233.6 542.4,232.2 523.5,233.9" fill="#81ff00"/><polygon points="200.7,259.3 221.9,263.1 209.1,275.9 188,272" fill="#13ca00"/><polygon points="415,238.3 434.7,238.6 419.7,242.6 400.1,242.2" fill="#6cf900"/><polygon points="574.6,237.1 593.3,234.5 577.1,231.3 558.4,233.6" fill="#85ff00"/><polygon points="325.1,244 345.5,245.8 331.3,253.3 311.1,251.4" fill="#51e300"/><polygon points="449.9,236.6 469.5,236.2 454.2,238.4 434.7,238.6" fill="#7fff00"/><polygon points="609.7,240 628.4,236.9 611.9,231.7 593.3,234.5" fill="#84ff00"/><polygon points="235,252.2 256.1,255.5 242.9,266.5 221.9,263.1" fill="#32d100"/><polygon points="645,244.3 663.4,240.5 646.8,233.4 628.4,236.9" fill="#7eff00"/><polygon points="144.8,262.8 166.5,267.7 154.4,282.2 132.7,277.3" fill="#11c200"/><polygon points="485.1,236.2 504.4,235.2 488.8,235.5 469.5,236.2" fill="#8bff00"/><polygon points="360,240.2 380.1,241.4 365.6,247.1 345.5,245.8" fill="#6bed00"/><polygon points="680.2,249.8 698.5,245.4 681.7,236.4 663.4,240.5" fill="#72ff00"/><polygon points="715.4,256.7 733.5,251.7 716.6,240.7 698.5,245.4" fill="#62ff00"/><polygon points="750.6,265 768.6,259.3 751.5,246.3 733.5,251.7" fill="#4dff00"/><polygon points="520.3,237 539.4,235.5 523.5,233.9 504.4,235.2" fill="#92ff00"/><polygon points="269.6,246.3 290.5,249.1 276.8,258.3 256.1,255.5" fill="#50d900"/><polygon points="395,237.7 415,238.3 400.1,242.2 380.1,241.4" fill="#83f700"/><polygon points="179.1,255 200.7,259.3 188,272 166.5,267.7" fill="#32c800"/><polygon points="555.6,239.3 574.6,237.1 558.4,233.6 539.4,235.5" fill="#93ff00"/><polygon points="590.9,242.8 609.7,240 593.3,234.5 574.6,237.1" fill="#90ff00"/><polygon points="304.5,241.8 325.1,244 311.1,251.4 290.5,249.1" fill="#6ce100"/><polygon points="430.2,236.6 449.9,236.6 434.7,238.6 415,238.3" fill="#96ff00"/><polygon points="626.3,247.7 645,244.3 628.4,236.9 609.7,240" fill="#87ff00"/><polygon points="213.7,248.4 235,252.2 221.9,263.1 200.7,259.3" fill="#50cf00"/><polygon points="661.7,253.9 680.2,249.8 663.4,240.5 645,244.3" fill="#7aff00"/><polygon points="465.5,236.7 485.1,236.2 469.5,236.2 449.9,236.6" fill="#9fff00"/><polygon points="697.1,261.5 715.4,256.7 698.5,245.4 680.2,249.8" fill="#67ff00"/><polygon points="339.5,238.6 360,240.2 345.5,245.8 325.1,244" fill="#85eb00"/><polygon points="732.5,270.3 750.6,265 733.5,251.7 715.4,256.7" fill="#4fff00"/><polygon points="767.8,280.5 785.7,274.5 768.6,259.3 750.6,265" fill="#33ff00"/><polygon points="500.9,238.2 520.3,237 504.4,235.2 485.1,236.2" fill="#a4ff00"/><polygon points="248.5,243.2 269.6,246.3 256.1,255.5 235,252.2" fill="#6dd700"/><polygon points="374.7,236.7 395,237.7 380.1,241.4 360,240.2" fill="#9cf500"/><polygon points="536.3,241.1 555.6,239.3 539.4,235.5 520.3,237" fill="#a3ff00"/><polygon points="157.2,250.3 179.1,255 166.5,267.7 144.8,262.8" fill="#52c600"/><polygon points="571.9,245.2 590.9,242.8 574.6,237.1 555.6,239.3" fill="#9eff00"/><polygon points="410.1,236.1 430.2,236.6 415,238.3 395,237.7" fill="#aeff00"/><polygon points="607.5,250.8 626.3,247.7 609.7,240 590.9,242.8" fill="#93ff00"/><polygon points="283.5,239.2 304.5,241.8 290.5,249.1 269.6,246.3" fill="#88df00"/><polygon points="643.1,257.6 661.7,253.9 645,244.3 626.3,247.7" fill="#83ff00"/><polygon points="785,298.4 803,292 785.7,274.5 767.8,280.5" fill="#10ff00"/><polygon points="678.6,265.8 697.1,261.5 680.2,249.8 661.7,253.9" fill="#6eff00"/><polygon points="749.6,286.2 767.8,280.5 750.6,265 732.5,270.3" fill="#35ff00"/><polygon points="714.2,275.4 732.5,270.3 715.4,256.7 697.1,261.5" fill="#54ff00"/><polygon points="445.6,236.9 465.5,236.7 449.9,236.6 430.2,236.6" fill="#b6ff00"/><polygon points="192,244.2 213.7,248.4 200.7,259.3 179.1,255" fill="#6fcd00"/><polygon points="318.8,236.6 339.5,238.6 325.1,244 304.5,241.8" fill="#a0e900"/><polygon points="481.2,239 500.9,238.2 485.1,236.2 465.5,236.7" fill="#b8ff00"/><polygon points="516.9,242.5 536.3,241.1 520.3,237 500.9,238.2" fill="#b5ff00"/><polygon points="354.2,235.3 374.7,236.7 360,240.2 339.5,238.6" fill="#b5f300"/><polygon points="227,239.5 248.5,243.2 235,252.2 213.7,248.4" fill="#8bd500"/><polygon points="552.6,247.3 571.9,245.2 555.6,239.3 536.3,241.1" fill="#adff00"/><polygon points="802.3,318.6 820.3,311.9 803,292 785,298.4" fill="#00ff1a"/><polygon points="588.4,253.5 607.5,250.8 590.9,242.8 571.9,245.2" fill="#a0ff00"/><polygon points="766.8,304.4 785,298.4 767.8,280.5 749.6,286.2" fill="#12ff00"/><polygon points="389.8,235.3 410.1,236.1 395,237.7 374.7,236.7" fill="#c8fe00"/><polygon points="624.2,261 643.1,257.6 626.3,247.7 607.5,250.8" fill="#8dff00"/><polygon points="731.3,291.6 749.6,286.2 732.5,270.3 714.2,275.4" fill="#38ff00"/><polygon points="659.9,269.8 678.6,265.8 661.7,253.9 643.1,257.6" fill="#76ff00"/><polygon points="695.7,280 714.2,275.4 697.1,261.5 678.6,265.8" fill="#5aff00"/><polygon points="262.3,236.1 283.5,239.2 269.6,246.3 248.5,243.2" fill="#a4de00"/><polygon points="425.5,236.7 445.6,236.9 430.2,236.6 410.1,236.1" fill="#cdff00"/><polygon points="170,239.6 192,244.2 179.1,255 157.2,250.3" fill="#8ecc00"/><polygon points="297.8,234.1 318.8,236.6 304.5,241.8 283.5,239.2" fill="#bbe700"/><polygon points="461.3,239.4 481.2,239 465.5,236.7 445.6,236.9" fill="#cdff00"/><polygon points="819.6,341 837.6,334 820.3,311.9 802.3,318.6" fill="#00ff4d"/><polygon points="497.2,243.6 516.9,242.5 500.9,238.2 481.2,239" fill="#c8ff00"/><polygon points="784.1,324.9 802.3,318.6 785,298.4 766.8,304.4" fill="#00ff1a"/><polygon points="333.4,233.4 354.2,235.3 339.5,238.6 318.8,236.6" fill="#d0f100"/><polygon points="533.2,249 552.6,247.3 536.3,241.1 516.9,242.5" fill="#bdff00"/><polygon points="205.2,235.5 227,239.5 213.7,248.4 192,244.2" fill="#a9d300"/><polygon points="748.5,310.1 766.8,304.4 749.6,286.2 731.3,291.6" fill="#14ff00"/><polygon points="569.1,255.8 588.4,253.5 571.9,245.2 552.6,247.3" fill="#aeff00"/><polygon points="712.8,296.6 731.3,291.6 714.2,275.4 695.7,280" fill="#3dff00"/><polygon points="605.1,264 624.2,261 607.5,250.8 588.4,253.5" fill="#99ff00"/><polygon points="676.9,284.4 695.7,280 678.6,265.8 659.9,269.8" fill="#61ff00"/><polygon points="641,273.5 659.9,269.8 643.1,257.6 624.2,261" fill="#80ff00"/><polygon points="369.2,234.1 389.8,235.3 374.7,236.7 354.2,235.3" fill="#e1fc00"/><polygon points="240.7,232.7 262.3,236.1 248.5,243.2 227,239.5" fill="#c2dc00"/><polygon points="405.1,236.1 425.5,236.7 410.1,236.1 389.8,235.3" fill="#e6ff00"/><polygon points="801.4,347.8 819.6,341 802.3,318.6 784.1,324.9" fill="#00ff4d"/><polygon points="441.2,239.5 461.3,239.4 445.6,236.9 425.5,236.7" fill="#e4ff00"/><polygon points="276.4,231.2 297.8,234.1 283.5,239.2 262.3,236.1" fill="#d8e500"/><polygon points="765.8,331 784.1,324.9 766.8,304.4 748.5,310.1" fill="#00ff18"/><polygon points="477.3,244.2 497.2,243.6 481.2,239 461.3,239.4" fill="#dcff00"/><polygon points="730,315.5 748.5,310.1 731.3,291.6 712.8,296.6" fill="#18ff00"/><polygon points="513.4,250.3 533.2,249 516.9,242.5 497.2,243.6" fill="#cfff00"/><polygon points="694.1,301.3 712.8,296.6 695.7,280 676.9,284.4" fill="#44ff00"/><polygon points="312.3,231.1 333.4,233.4 318.8,236.6 297.8,234.1" fill="#ebef00"/><polygon points="549.6,257.8 569.1,255.8 552.6,247.3 533.2,249" fill="#beff00"/><polygon points="658,288.4 676.9,284.4 659.9,269.8 641,273.5" fill="#6aff00"/><polygon points="585.8,266.7 605.1,264 588.4,253.5 569.1,255.8" fill="#a7ff00"/><polygon points="621.9,276.8 641,273.5 624.2,261 605.1,264" fill="#8bff00"/><polygon points="183.1,230.9 205.2,235.5 192,244.2 170,239.6" fill="#c8d100"/><polygon points="348.4,232.4 369.2,234.1 354.2,235.3 333.4,233.4" fill="#faf900"/><polygon points="783.1,354.2 801.4,347.8 784.1,324.9 765.8,331" fill="#00ff4c"/><polygon points="384.5,235.1 405.1,236.1 389.8,235.3 369.2,234.1" fill="#fffd00"/><polygon points="218.9,228.7 240.7,232.7 227,239.5 205.2,235.5" fill="#dad400"/><polygon points="747.3,336.7 765.8,331 748.5,310.1 730,315.5" fill="#00ff14"/><polygon points="420.8,239.1 441.2,239.5 425.5,236.7 405.1,236.1" fill="#fcff00"/><polygon points="711.3,320.5 730,315.5 712.8,296.6 694.1,301.3" fill="#1eff00"/><polygon points="457.1,244.5 477.3,244.2 461.3,239.4 441.2,239.5" fill="#f2ff00"/><polygon points="254.8,227.9 276.4,231.2 262.3,236.1 240.7,232.7" fill="#e3d100"/><polygon points="675.2,305.6 694.1,301.3 676.9,284.4 658,288.4" fill="#4cff00"/><polygon points="493.5,251.3 513.4,250.3 497.2,243.6 477.3,244.2" fill="#e3ff00"/><polygon points="638.9,292 658,288.4 641,273.5 621.9,276.8" fill="#74ff00"/><polygon points="529.9,259.4 549.6,257.8 533.2,249 513.4,250.3" fill="#cfff00"/><polygon points="602.6,279.8 621.9,276.8 605.1,264 585.8,266.7" fill="#98ff00"/><polygon points="566.2,268.9 585.8,266.7 569.1,255.8 549.6,257.8" fill="#b6ff00"/><polygon points="290.9,228.4 312.3,231.1 297.8,234.1 276.4,231.2" fill="#edd200"/><polygon points="764.6,360.3 783.1,354.2 765.8,331 747.3,336.7" fill="#00ff4a"/><polygon points="327.2,230.3 348.4,232.4 333.4,233.4 312.3,231.1" fill="#f8d900"/><polygon points="728.6,342.1 747.3,336.7 730,315.5 711.3,320.5" fill="#00ff10"/><polygon points="363.6,233.6 384.5,235.1 369.2,234.1 348.4,232.4" fill="#ffe100"/><polygon points="196.6,224.3 218.9,228.7 205.2,235.5 183.1,230.9" fill="#d8b100"/><polygon points="692.4,325.2 711.3,320.5 694.1,301.3 675.2,305.6" fill="#25ff00"/><polygon points="400.1,238.3 420.8,239.1 405.1,236.1 384.5,235.1" fill="#ffe800"/><polygon points="656,309.6 675.2,305.6 658,288.4 638.9,292" fill="#55ff00"/><polygon points="436.6,244.4 457.1,244.5 441.2,239.5 420.8,239.1" fill="#fff500"/><polygon points="619.6,295.3 638.9,292 621.9,276.8 602.6,279.8" fill="#80ff00"/><polygon points="473.2,251.8 493.5,251.3 477.3,244.2 457.1,244.5" fill="#f8ff00"/><polygon points="232.8,224.1 254.8,227.9 240.7,232.7 218.9,228.7" fill="#e1af00"/><polygon points="583.1,282.4 602.6,279.8 585.8,266.7 566.2,268.9" fill="#a6ff00"/><polygon points="509.9,260.6 529.9,259.4 513.4,250.3 493.5,251.3" fill="#e2ff00"/><polygon points="546.5,270.8 566.2,268.9 549.6,257.8 529.9,259.4" fill="#c6ff00"/><polygon points="269.2,225.2 290.9,228.4 276.4,231.2 254.8,227.9" fill="#ebb100"/><polygon points="745.9,366 764.6,360.3 747.3,336.7 728.6,342.1" fill="#00ff45"/><polygon points="305.7,227.8 327.2,230.3 312.3,231.1 290.9,228.4" fill="#f6b900"/><polygon points="709.6,347.1 728.6,342.1 711.3,320.5 692.4,325.2" fill="#00ff09"/><polygon points="342.4,231.7 363.6,233.6 348.4,232.4 327.2,230.3" fill="#ffc400"/><polygon points="673.2,329.5 692.4,325.2 675.2,305.6 656,309.6" fill="#2eff00"/><polygon points="379.1,237.1 400.1,238.3 384.5,235.1 363.6,233.6" fill="#ffcd00"/><polygon points="636.7,313.2 656,309.6 638.9,292 619.6,295.3" fill="#60ff00"/><polygon points="415.9,243.8 436.6,244.4 420.8,239.1 400.1,238.3" fill="#ffdc00"/><polygon points="600,298.2 619.6,295.3 602.6,279.8 583.1,282.4" fill="#8dff00"/><polygon points="452.7,251.9 473.2,251.8 457.1,244.5 436.6,244.4" fill="#ffef00"/><polygon points="563.3,284.6 583.1,282.4 566.2,268.9 546.5,270.8" fill="#b5ff00"/><polygon points="489.6,261.5 509.9,260.6 493.5,251.3 473.2,251.8" fill="#f6ff00"/><polygon points="526.5,272.3 546.5,270.8 529.9,259.4 509.9,260.6" fill="#d8ff00"/><polygon points="210.5,219.8 232.8,224.1 218.9,228.7 196.6,224.3" fill="#df8c00"/><polygon points="727,371.5 745.9,366 728.6,342.1 709.6,347.1" fill="#00ff40"/><polygon points="247.1,221.6 269.2,225.2 254.8,227.9 232.8,224.1" fill="#e98f00"/><polygon points="690.5,351.8 709.6,347.1 692.4,325.2 673.2,329.5" fill="#00ff01"/><polygon points="283.9,224.8 305.7,227.8 290.9,228.4 269.2,225.2" fill="#f49700"/><polygon points="653.9,333.5 673.2,329.5 656,309.6 636.7,313.2" fill="#38ff00"/><polygon points="320.8,229.4 342.4,231.7 327.2,230.3 305.7,227.8" fill="#ffa500"/><polygon points="617.1,316.5 636.7,313.2 619.6,295.3 600,298.2" fill="#6dff00"/><polygon points="357.8,235.4 379.1,237.1 363.6,233.6 342.4,231.7" fill="#ffb000"/><polygon points="580.2,300.8 600,298.2 583.1,282.4 563.3,284.6" fill="#9cff00"/><polygon points="394.9,242.9 415.9,243.8 400.1,238.3 379.1,237.1" fill="#ffc100"/><polygon points="543.2,286.4 563.3,284.6 546.5,270.8 526.5,272.3" fill="#c7ff00"/><polygon points="432,251.7 452.7,251.9 436.6,244.4 415.9,243.8" fill="#ffd700"/><polygon points="506.2,273.5 526.5,272.3 509.9,260.6 489.6,261.5" fill="#ecff00"/><polygon points="469.1,261.9 489.6,261.5 473.2,251.8 452.7,251.9" fill="#fff200"/><polygon points="707.9,376.5 727,371.5 709.6,347.1 690.5,351.8" fill="#00ff39"/><polygon points="671.2,356.2 690.5,351.8 673.2,329.5 653.9,333.5" fill="#08ff00"/><polygon points="224.8,217.5 247.1,221.6 232.8,224.1 210.5,219.8" fill="#e76c00"/><polygon points="634.3,337.1 653.9,333.5 636.7,313.2 617.1,316.5" fill="#44ff00"/><polygon points="261.8,221.4 283.9,224.8 269.2,225.2 247.1,221.6" fill="#f27500"/><polygon points="597.3,319.4 617.1,316.5 600,298.2 580.2,300.8" fill="#7bff00"/><polygon points="299,226.7 320.8,229.4 305.7,227.8 283.9,224.8" fill="#fd8300"/><polygon points="560.2,303 580.2,300.8 563.3,284.6 543.2,286.4" fill="#adff00"/><polygon points="336.2,233.4 357.8,235.4 342.4,231.7 320.8,229.4" fill="#ff9200"/><polygon points="522.9,287.9 543.2,286.4 526.5,272.3 506.2,273.5" fill="#d9ff00"/><polygon points="688.6,381.3 707.9,376.5 690.5,351.8 671.2,356.2" fill="#00ff30"/><polygon points="373.5,241.5 394.9,242.9 379.1,237.1 357.8,235.4" fill="#ffa500"/><polygon points="485.6,274.2 506.2,273.5 489.6,261.5 469.1,261.9" fill="#fffd00"/><polygon points="410.9,251 432,251.7 415.9,243.8 394.9,242.9" fill="#ffbd00"/><polygon points="448.3,261.9 469.1,261.9 452.7,251.9 432,251.7" fill="#ffdb00"/><polygon points="651.7,360.2 671.2,356.2 653.9,333.5 634.3,337.1" fill="#13ff00"/><polygon points="614.6,340.4 634.3,337.1 617.1,316.5 597.3,319.4" fill="#51ff00"/><polygon points="577.3,321.9 597.3,319.4 580.2,300.8 560.2,303" fill="#8aff00"/><polygon points="239.3,217.5 261.8,221.4 247.1,221.6 224.8,217.5" fill="#f05100"/><polygon points="539.9,304.7 560.2,303 543.2,286.4 522.9,287.9" fill="#beff00"/><polygon points="669.1,385.7 688.6,381.3 671.2,356.2 651.7,360.2" fill="#00ff26"/><polygon points="276.8,223.4 299,226.7 283.9,224.8 261.8,221.4" fill="#fb6000"/><polygon points="502.4,289 522.9,287.9 506.2,273.5 485.6,274.2" fill="#edff00"/><polygon points="314.3,230.8 336.2,233.4 320.8,229.4 299,226.7" fill="#ff7200"/><polygon points="464.8,274.5 485.6,274.2 469.1,261.9 448.3,261.9" fill="#ffe700"/><polygon points="351.9,239.6 373.5,241.5 357.8,235.4 336.2,233.4" fill="#ff8800"/><polygon points="427.2,261.5 448.3,261.9 432,251.7 410.9,251" fill="#ffc200"/><polygon points="389.6,249.9 410.9,251 394.9,242.9 373.5,241.5" fill="#ffa200"/><polygon points="631.9,363.8 651.7,360.2 634.3,337.1 614.6,340.4" fill="#20ff00"/><polygon points="594.5,343.3 614.6,340.4 597.3,319.4 577.3,321.9" fill="#60ff00"/><polygon points="557,324 577.3,321.9 560.2,303 539.9,304.7" fill="#9cff00"/><polygon points="649.3,389.7 669.1,385.7 651.7,360.2 631.9,363.8" fill="#00ff1b"/><polygon points="519.3,306.1 539.9,304.7 522.9,287.9 502.4,289" fill="#d2ff00"/><polygon points="481.6,289.6 502.4,289 485.6,274.2 464.8,274.5" fill="#fffb00"/><polygon points="254.3,219.8 276.8,223.4 261.8,221.4 239.3,217.5" fill="#f93d00"/><polygon points="443.7,274.4 464.8,274.5 448.3,261.9 427.2,261.5" fill="#ffcf00"/><polygon points="292.1,227.8 314.3,230.8 299,226.7 276.8,223.4" fill="#ff5100"/><polygon points="611.9,367.1 631.9,363.8 614.6,340.4 594.5,343.3" fill="#2dff00"/><polygon points="405.8,260.7 427.2,261.5 410.9,251 389.6,249.9" fill="#ffa800"/><polygon points="330,237.4 351.9,239.6 336.2,233.4 314.3,230.8" fill="#ff6900"/><polygon points="367.9,248.3 389.6,249.9 373.5,241.5 351.9,239.6" fill="#ff8600"/><polygon points="574.2,345.8 594.5,343.3 577.3,321.9 557,324" fill="#70ff00"/><polygon points="536.4,325.8 557,324 539.9,304.7 519.3,306.1" fill="#aeff00"/><polygon points="629.3,393.4 649.3,389.7 631.9,363.8 611.9,367.1" fill="#00ff0d"/><polygon points="498.5,307.1 519.3,306.1 502.4,289 481.6,289.6" fill="#e7ff00"/><polygon points="460.5,289.8 481.6,289.6 464.8,274.5 443.7,274.4" fill="#ffe400"/><polygon points="591.6,370 611.9,367.1 594.5,343.3 574.2,345.8" fill="#3dff00"/><polygon points="422.3,273.9 443.7,274.4 427.2,261.5 405.8,260.7" fill="#ffb500"/><polygon points="384.1,259.4 405.8,260.7 389.6,249.9 367.9,248.3" fill="#ff8c00"/><polygon points="269.5,224.4 292.1,227.8 276.8,223.4 254.3,219.8" fill="#ff2e00"/><polygon points="345.9,246.3 367.9,248.3 351.9,239.6 330,237.4" fill="#ff6800"/><polygon points="307.7,234.6 330,237.4 314.3,230.8 292.1,227.8" fill="#ff4800"/><polygon points="553.7,347.9 574.2,345.8 557,324 536.4,325.8" fill="#82ff00"/><polygon points="515.6,327.2 536.4,325.8 519.3,306.1 498.5,307.1" fill="#c2ff00"/><polygon points="609.1,396.7 629.3,393.4 611.9,367.1 591.6,370" fill="#01ff00"/><polygon points="477.4,307.7 498.5,307.1 481.6,289.6 460.5,289.8" fill="#fdff00"/><polygon points="439.1,289.7 460.5,289.8 443.7,274.4 422.3,273.9" fill="#ffcb00"/><polygon points="571.1,372.6 591.6,370 574.2,345.8 553.7,347.9" fill="#4eff00"/><polygon points="400.6,273 422.3,273.9 405.8,260.7 384.1,259.4" fill="#ff9a00"/><polygon points="362.1,257.7 384.1,259.4 367.9,248.3 345.9,246.3" fill="#ff6e00"/><polygon points="323.6,243.9 345.9,246.3 330,237.4 307.7,234.6" fill="#ff4800"/><polygon points="285.1,231.4 307.7,234.6 292.1,227.8 269.5,224.4" fill="#ff2600"/><polygon points="532.9,349.7 553.7,347.9 536.4,325.8 515.6,327.2" fill="#95ff00"/><polygon points="494.5,328.1 515.6,327.2 498.5,307.1 477.4,307.7" fill="#d8ff00"/><polygon points="588.6,399.7 609.1,396.7 591.6,370 571.1,372.6" fill="#11ff00"/><polygon points="456,307.9 477.4,307.7 460.5,289.8 439.1,289.7" fill="#ffe900"/><polygon points="550.3,374.7 571.1,372.6 553.7,347.9 532.9,349.7" fill="#60ff00"/><polygon points="417.3,289.1 439.1,289.7 422.3,273.9 400.6,273" fill="#ffb100"/><polygon points="378.6,271.6 400.6,273 384.1,259.4 362.1,257.7" fill="#ff7e00"/><polygon points="339.8,255.6 362.1,257.7 345.9,246.3 323.6,243.9" fill="#ff5000"/><polygon points="511.8,351 532.9,349.7 515.6,327.2 494.5,328.1" fill="#aaff00"/><polygon points="301,241 323.6,243.9 307.7,234.6 285.1,231.4" fill="#ff2700"/><polygon points="473.1,328.7 494.5,328.1 477.4,307.7 456,307.9" fill="#efff00"/><polygon points="567.8,402.2 588.6,399.7 571.1,372.6 550.3,374.7" fill="#23ff00"/><polygon points="434.3,307.7 456,307.9 439.1,289.7 417.3,289.1" fill="#ffd000"/><polygon points="529.2,376.5 550.3,374.7 532.9,349.7 511.8,351" fill="#74ff00"/><polygon points="395.3,288 417.3,289.1 400.6,273 378.6,271.6" fill="#ff9500"/><polygon points="356.3,269.8 378.6,271.6 362.1,257.7 339.8,255.6" fill="#ff6000"/><polygon points="490.4,352 511.8,351 494.5,328.1 473.1,328.7" fill="#c0ff00"/><polygon points="317.1,253 339.8,255.6 323.6,243.9 301,241" fill="#ff2f00"/><polygon points="546.8,404.4 567.8,402.2 550.3,374.7 529.2,376.5" fill="#36ff00"/><polygon points="451.4,328.8 473.1,328.7 456,307.9 434.3,307.7" fill="#fff700"/><polygon points="412.3,307 434.3,307.7 417.3,289.1 395.3,288" fill="#ffb500"/><polygon points="507.9,377.8 529.2,376.5 511.8,351 490.4,352" fill="#8aff00"/><polygon points="373,286.5 395.3,288 378.6,271.6 356.3,269.8" fill="#ff7800"/><polygon points="333.6,267.5 356.3,269.8 339.8,255.6 317.1,253" fill="#ff4000"/><polygon points="468.8,352.5 490.4,352 473.1,328.7 451.4,328.8" fill="#d8ff00"/><polygon points="525.5,406.2 546.8,404.4 529.2,376.5 507.9,377.8" fill="#4bff00"/><polygon points="429.4,328.5 451.4,328.8 434.3,307.7 412.3,307" fill="#ffdd00"/><polygon points="389.9,305.9 412.3,307 395.3,288 373,286.5" fill="#ff9800"/><polygon points="486.2,378.8 507.9,377.8 490.4,352 468.8,352.5" fill="#a0ff00"/><polygon points="350.3,284.6 373,286.5 356.3,269.8 333.6,267.5" fill="#ff5900"/><polygon points="446.8,352.6 468.8,352.5 451.4,328.8 429.4,328.5" fill="#f1ff00"/><polygon points="503.9,407.6 525.5,406.2 507.9,377.8 486.2,378.8" fill="#61ff00"/><polygon points="407.1,327.8 429.4,328.5 412.3,307 389.9,305.9" fill="#ffc100"/><polygon points="367.2,304.3 389.9,305.9 373,286.5 350.3,284.6" fill="#ff7a00"/><polygon points="464.3,379.3 486.2,378.8 468.8,352.5 446.8,352.6" fill="#b9ff00"/><polygon points="424.5,352.3 446.8,352.6 429.4,328.5 407.1,327.8" fill="#fff200"/><polygon points="482,408.6 503.9,407.6 486.2,378.8 464.3,379.3" fill="#78ff00"/><polygon points="384.4,326.6 407.1,327.8 389.9,305.9 367.2,304.3" fill="#ffa400"/><polygon points="442,379.4 464.3,379.3 446.8,352.6 424.5,352.3" fill="#d3ff00"/><polygon points="401.8,351.5 424.5,352.3 407.1,327.8 384.4,326.6" fill="#ffd600"/><polygon points="459.7,409.1 482,408.6 464.3,379.3 442,379.4" fill="#91ff00"/><polygon points="419.4,379.1 442,379.4 424.5,352.3 401.8,351.5" fill="#eeff00"/><polygon points="437.1,409.2 459.7,409.1 442,379.4 419.4,379.1" fill="#acff00"/></g><path d="M140 1210L485.1 1101.5L826.5 1209.8M137.5 1163.5L484.9 1059.6L828.9 1163.1M134.9 1116.9L484.7 1017.6L831.3 1116.4M132.4 1070.4L484.5 975.7L833.7 1069.7M129.9 1023.8L484.3 933.7L836.1 1023.1M127.4 977.3L484.1 891.8L838.5 976.4M124.8 930.7L483.9 849.8L840.9 929.7M122.3 884.2L483.7 807.9L843.3 883" stroke="#262626" stroke-width="1.5" fill="none"/><path d="M212.6 865.1L226.3 1182.9M573.6 826.7L570.4 1128.6M303 846L312.5 1155.8M663.5 845.5L655.8 1155.7M393.3 827L398.8 1128.7M753.4 864.2L741.1 1182.7M122.3 884.2L144.9 1313M483.7 807.9L485.5 1196.6M843.3 883L821.9 1313" stroke="#3a3a3a" stroke-width="1.4" fill="none"/><polygon points="483.5,1464.5 821.9,1313 485.5,1196.6 144.9,1313" fill="#666666" stroke="#111" stroke-width="1.6" stroke-linejoin="round"/><path d="M432.2 1438.6L428 1438.1M428 1438.1L423.6 1437.6M440.8 1439.6L437.8 1439.3M437.8 1439.3L432.9 1438.7M432.9 1438.7L432.2 1438.6M449.2 1440.5L447.8 1440.4M447.8 1440.4L442.8 1439.8M442.8 1439.8L440.8 1439.6M457.5 1441.4L452.8 1440.9M452.8 1440.9L449.2 1440.5M465.7 1442.2L462.9 1441.9M462.9 1441.9L457.8 1441.4M457.8 1441.4L457.5 1441.4M473.9 1443L473.2 1442.9M473.2 1442.9L468.1 1442.4M468.1 1442.4L465.7 1442.2M481.9 1443.7L478.4 1443.4M478.4 1443.4L473.9 1443M489.8 1444.4L488.9 1444.3M488.9 1444.3L483.6 1443.9M483.6 1443.9L481.9 1443.7M497.6 1445L494.2 1444.8M494.2 1444.8L489.8 1444.4M505.4 1445.6L504.9 1445.6M504.9 1445.6L499.5 1445.2M499.5 1445.2L497.6 1445M513 1446.2L510.3 1446M510.3 1446L505.4 1445.6M520.6 1446.7L515.7 1446.4M515.7 1446.4L513 1446.2M521.2 1446.7L520.6 1446.7" stroke="#0077ff" stroke-width="2.6" fill="none" stroke-linecap="round"/><path d="M366.3 1409.5L362.3 1408.9M362.3 1408.9L357.8 1408.3M357.8 1408.3L357.1 1408.1M375.4 1410.8L371.3 1410.2M371.3 1410.2L366.8 1409.6M366.8 1409.6L366.3 1409.5M384.3 1412L380.4 1411.5M380.4 1411.5L375.8 1410.8M375.8 1410.8L375.4 1410.8M393.1 1413.2L389.7 1412.7M389.7 1412.7L385 1412.1M385 1412.1L384.3 1412M401.8 1414.2L399 1413.9M399 1413.9L394.3 1413.3M394.3 1413.3L393.1 1413.2M410.4 1415.3L408.5 1415.1M408.5 1415.1L403.8 1414.5M403.8 1414.5L401.8 1414.2M418.8 1416.2L418.1 1416.2M418.1 1416.2L413.3 1415.6M413.3 1415.6L410.4 1415.3M427.1 1417.2L423 1416.7M423 1416.7L418.8 1416.2M435.3 1418L432.8 1417.8M432.8 1417.8L427.8 1417.2M427.8 1417.2L427.1 1417.2M443.4 1418.8L442.7 1418.8M442.7 1418.8L437.7 1418.3M437.7 1418.3L435.3 1418M451.3 1419.6L447.7 1419.2M447.7 1419.2L443.4 1418.8M459.2 1420.3L457.8 1420.2M457.8 1420.2L452.7 1419.7M452.7 1419.7L451.3 1419.6M467 1420.9L463 1420.6M463 1420.6L459.2 1420.3M474.6 1421.5L473.3 1421.4M473.3 1421.4L468.1 1421M468.1 1421L467 1420.9M482.2 1422.1L478.6 1421.8M478.6 1421.8L474.6 1421.5M489.6 1422.6L489.2 1422.6M489.2 1422.6L483.8 1422.2M483.8 1422.2L482.2 1422.1M497 1423.1L494.5 1422.9M494.5 1422.9L489.6 1422.6M504.2 1423.5L499.9 1423.3M499.9 1423.3L497 1423.1M511.4 1423.9L510.9 1423.9M510.9 1423.9L505.4 1423.6M505.4 1423.6L504.2 1423.5M518.4 1424.3L516.5 1424.2M516.5 1424.2L511.4 1423.9M525.4 1424.6L522.1 1424.4M522.1 1424.4L518.4 1424.3M532.3 1424.8L527.7 1424.6M527.7 1424.6L525.4 1424.6M539.1 1425L533.4 1424.9M533.4 1424.9L532.3 1424.8M545.8 1425.2L545 1425.2M545 1425.2L539.2 1425M539.2 1425L539.1 1425M552.4 1425.4L550.9 1425.3M550.9 1425.3L545.8 1425.2M558.9 1425.5L556.9 1425.4M556.9 1425.4L552.4 1425.4M565.3 1425.5L562.9 1425.5M562.9 1425.5L558.9 1425.5M569 1425.6L565.3 1425.5M796.6 1324.8L795.8 1323.6M795.3 1322.9L795.8 1323.6M795.3 1322.9L793.9 1321M793.9 1320.9L793.9 1321M793.9 1320.9L792.5 1319.1M792.5 1319.1L791.9 1318.2M791.1 1317.2L791.9 1318.2M791.1 1317.2L789.6 1315.4M789.6 1315.4L789.6 1315.4M789.6 1315.4L788 1313.6M788 1313.6L787.1 1312.6M786.5 1311.9L787.1 1312.6M786.5 1311.9L784.8 1310.1M784.8 1310.1L784.4 1309.7M783.2 1308.4L784.4 1309.7M783.2 1308.4L781.5 1306.7M781.5 1306.7L781.4 1306.7M779.8 1305.1L781.4 1306.7M779.8 1305.1L778.2 1303.6M778.1 1303.4L778.2 1303.6M778.1 1303.4L776.3 1301.8M776.3 1301.8L774.7 1300.4M774.5 1300.2L774.7 1300.4M774.5 1300.2L772.6 1298.6M772.6 1298.6L771 1297.2M770.8 1297L771 1297.2M770.8 1297L768.9 1295.5M768.9 1295.5L767 1293.9M767 1293.9L766.9 1293.8" stroke="#00ffe7" stroke-width="2.6" fill="none" stroke-linecap="round"/><path d="M286.9 1374.4L283.2 1373.7M283.2 1373.7L279.3 1373M279.3 1373L276.3 1372.4M297.2 1376.3L295.2 1376M295.2 1376L291.2 1375.2M291.2 1375.2L287.2 1374.5M287.2 1374.5L286.9 1374.4M307.3 1378.1L303.3 1377.4M303.3 1377.4L299.2 1376.7M299.2 1376.7L297.2 1376.3M317.1 1379.8L315.6 1379.6M315.6 1379.6L311.5 1378.9M311.5 1378.9L307.4 1378.2M307.4 1378.2L307.3 1378.1M326.7 1381.4L324 1380.9M324 1380.9L319.8 1380.3M319.8 1380.3L317.1 1379.8M336.2 1382.9L332.4 1382.3M332.4 1382.3L328.2 1381.6M328.2 1381.6L326.7 1381.4M345.4 1384.3L345.3 1384.3M345.3 1384.3L341 1383.6M341 1383.6L336.7 1383M336.7 1383L336.2 1382.9M354.5 1385.6L354.1 1385.6M354.1 1385.6L349.7 1384.9M349.7 1384.9L345.4 1384.3M363.4 1386.9L362.9 1386.8M362.9 1386.8L358.5 1386.2M358.5 1386.2L354.5 1385.6M372.2 1388L371.9 1388M371.9 1388L367.4 1387.4M367.4 1387.4L363.4 1386.9M380.7 1389.1L376.4 1388.6M376.4 1388.6L372.2 1388M389.2 1390.1L385.6 1389.7M385.6 1389.7L381 1389.1M381 1389.1L380.7 1389.1M397.5 1391.1L394.9 1390.8M394.9 1390.8L390.2 1390.3M390.2 1390.3L389.2 1390.1M405.7 1392L404.3 1391.9M404.3 1391.9L399.6 1391.3M399.6 1391.3L397.5 1391.1M413.7 1392.8L409.1 1392.4M409.1 1392.4L405.7 1392M421.6 1393.6L418.8 1393.3M418.8 1393.3L413.9 1392.9M413.9 1392.9L413.7 1392.8M429.4 1394.3L428.6 1394.2M428.6 1394.2L423.7 1393.8M423.7 1393.8L421.6 1393.6M437 1395L433.5 1394.7M433.5 1394.7L429.4 1394.3M444.5 1395.6L443.6 1395.5M443.6 1395.5L438.5 1395.1M438.5 1395.1L437 1395M452 1396.1L448.7 1395.9M448.7 1395.9L444.5 1395.6M459.3 1396.7L459 1396.6M459 1396.6L453.8 1396.3M453.8 1396.3L452 1396.1M466.5 1397.1L464.2 1397M464.2 1397L459.3 1396.7M473.5 1397.5L469.5 1397.3M469.5 1397.3L466.5 1397.1M480.5 1397.9L480.2 1397.9M480.2 1397.9L474.9 1397.6M474.9 1397.6L473.5 1397.5M487.4 1398.2L485.7 1398.1M485.7 1398.1L480.5 1397.9M494.1 1398.5L491.2 1398.3M491.2 1398.3L487.4 1398.2M500.8 1398.7L496.8 1398.6M496.8 1398.6L494.1 1398.5M507.3 1398.9L502.4 1398.7M502.4 1398.7L500.8 1398.7M513.8 1399L508.1 1398.9M508.1 1398.9L507.3 1398.9M520.2 1399.1L519.7 1399.1M519.7 1399.1L513.8 1399M513.8 1399L513.8 1399M526.4 1399.2L525.6 1399.2M525.6 1399.2L520.2 1399.1M532.6 1399.2L531.6 1399.2M531.6 1399.2L526.4 1399.2M538.6 1399.2L537.7 1399.2M537.7 1399.2L532.6 1399.2M544.6 1399.1L543.9 1399.1M543.9 1399.1L538.6 1399.2M550.5 1399L550.2 1399M550.2 1399L544.6 1399.1M556.3 1398.9L550.5 1399M562 1398.7L556.6 1398.9M556.6 1398.9L556.3 1398.9M567.6 1398.5L563.2 1398.6M563.2 1398.6L562 1398.7M573.1 1398.2L569.8 1398.4M569.8 1398.4L567.6 1398.5M578.5 1397.9L576.7 1398M576.7 1398L573.1 1398.2M583.8 1397.6L583.6 1397.6M583.6 1397.6L578.5 1397.9M589 1397.3L583.8 1397.6M594.2 1396.9L590.8 1397.1M590.8 1397.1L589 1397.3M599.2 1396.5L598.2 1396.5M598.2 1396.5L594.2 1396.9M604.2 1396L599.2 1396.5M609.1 1395.5L605.9 1395.8M605.9 1395.8L604.2 1396M613.9 1395L609.1 1395.5M618.6 1394.4L613.9 1395M613.9 1395L613.9 1395M623.2 1393.8L622.3 1394M622.3 1394L618.6 1394.4M627.7 1393.2L623.2 1393.8M632.1 1392.6L631.1 1392.7M631.1 1392.7L627.7 1393.2M636.5 1391.9L632.1 1392.6M640.7 1391.1L640.7 1391.2M640.7 1391.2L636.5 1391.9M644.9 1390.4L640.7 1391.1M649 1389.6L644.9 1390.4M651.2 1389.2L649 1389.6M723.3 1357.2L724 1356.5M725.3 1354.8L724 1356.5M726.5 1353.2L725.3 1354.8M726.5 1353.2L726.6 1353.1M727.7 1351.4L726.6 1353.1M728.6 1349.7L727.7 1351.4M728.6 1349.7L728.7 1349.6M729.6 1347.8L728.7 1349.6M730.1 1346.5L729.6 1347.8M730.1 1346.5L730.4 1345.9M731 1344L730.4 1345.9M731.2 1343.5L731 1344M731.2 1343.5L731.5 1342M731.8 1340.7L731.5 1342M731.8 1340.7L731.9 1340.1M732.2 1338L731.9 1340.1M732.2 1338L732.2 1338M732.3 1336L732.2 1338M732.3 1335.5L732.3 1336M732.3 1335.5L732.3 1333.9M732.2 1333L732.3 1333.9M732.2 1333L732.1 1331.7M731.9 1330.7L732.1 1331.7M731.9 1330.7L731.8 1329.5M731.5 1328.4L731.8 1329.5M731.5 1328.4L731.3 1327.2M731 1326.2L731.3 1327.2M731 1326.2L730.6 1324.9M730.3 1324L730.6 1324.9M730.3 1324L729.8 1322.6M729.5 1321.9L729.8 1322.6M729.5 1321.9L728.8 1320.2M728.7 1319.8L728.8 1320.2M728.7 1319.8L727.7 1317.8M727.7 1317.8L727.6 1317.7M726.6 1315.9L727.6 1317.7M726.6 1315.9L726.2 1315.2M725.5 1314L726.2 1315.2M725.5 1314L724.7 1312.6M724.3 1312.1L724.7 1312.6M724.3 1312.1L723.1 1310.2M723.1 1310.2L722.9 1309.9M721.8 1308.4L722.9 1309.9M721.8 1308.4L720.9 1307.2M720.4 1306.6L720.9 1307.2M720.4 1306.6L719 1304.9M719 1304.9L718.6 1304.4M717.5 1303.1L718.6 1304.4M717.5 1303.1L716.1 1301.5M716 1301.4L716.1 1301.5M716 1301.4L714.5 1299.8M714.5 1299.8L713.3 1298.5M712.9 1298.1L713.3 1298.5M712.9 1298.1L711.3 1296.5M711.3 1296.5L710.2 1295.5M709.6 1294.9L710.2 1295.5M709.6 1294.9L707.9 1293.3M707.9 1293.3L706.8 1292.3M706.2 1291.7L706.8 1292.3M706.2 1291.7L704.4 1290.2M704.4 1290.2L703.1 1289.1M702.6 1288.6L703.1 1289.1M702.6 1288.6L700.8 1287.1M700.8 1287.1L699 1285.7M698.9 1285.6L699 1285.7M698.9 1285.6L697.1 1284.2M697.1 1284.2L695.2 1282.7M695.2 1282.7L694.4 1282.1M693.3 1281.3L694.4 1282.1M693.3 1281.3L691.3 1279.8M691.3 1279.8L689.4 1278.5M689.4 1278.4L689.4 1278.5M689.4 1278.4L687.4 1277M687.4 1277L685.4 1275.7M685.4 1275.7L683.8 1274.6M683.3 1274.3L683.8 1274.6M683.3 1274.3L681.3 1272.9M681.3 1272.9L679.2 1271.6M679.2 1271.6L677.6 1270.5M677.2 1270.3L677.6 1270.5M677.2 1270.3L675.1 1268.9M675.1 1268.9L672.9 1267.6M672.9 1267.6L670.8 1266.3M670.8 1266.3L670.6 1266.2M668.7 1265.1L670.6 1266.2M668.7 1265.1L666.5 1263.8M666.5 1263.8L664.3 1262.5M664.3 1262.5L662.7 1261.6M662.1 1261.3L662.7 1261.6M662.1 1261.3L659.9 1260M659.9 1260L657.7 1258.8M657.7 1258.8L655.5 1257.6M655.5 1257.6L653.6 1256.6M653.3 1256.4L653.6 1256.6M653.3 1256.4L651 1255.2M651 1255.2L648.7 1254M648.7 1254L646.5 1252.8M646.5 1252.8L644.2 1251.6M644.2 1251.6L643 1251" stroke="#00ff47" stroke-width="2.6" fill="none" stroke-linecap="round"/><path d="M162.4 1319.5L161.2 1319.1M161.2 1319.1L158.2 1318.2M158.2 1318.2L155.2 1317.2M155.2 1317.2L152.3 1316.3M152.3 1316.3L149.3 1315.4M149.3 1315.4L146.4 1314.4M179.7 1324.6L179.5 1324.5M179.5 1324.5L176.4 1323.6M176.4 1323.6L173.3 1322.7M173.3 1322.7L170.3 1321.8M170.3 1321.8L167.2 1320.9M167.2 1320.9L164.2 1320M164.2 1320L162.4 1319.5M195.2 1328.9L192.2 1328.1M192.2 1328.1L189 1327.2M189 1327.2L185.9 1326.3M185.9 1326.3L182.7 1325.4M182.7 1325.4L179.7 1324.6M209.5 1332.6L208.6 1332.4M208.6 1332.4L205.3 1331.6M205.3 1331.6L202 1330.7M202 1330.7L198.7 1329.8M198.7 1329.8L195.5 1329M195.5 1329L195.2 1328.9M222.9 1336L222.1 1335.8M222.1 1335.8L218.7 1335M218.7 1335L215.3 1334.1M215.3 1334.1L212 1333.3M212 1333.3L209.5 1332.6M235.5 1339L232.5 1338.3M232.5 1338.3L229 1337.4M229 1337.4L225.6 1336.6M225.6 1336.6L222.9 1336M247.5 1341.7L246.7 1341.5M246.7 1341.5L243.1 1340.7M243.1 1340.7L239.6 1339.9M239.6 1339.9L236 1339.1M236 1339.1L235.5 1339M259 1344.1L257.6 1343.8M257.6 1343.8L253.9 1343M253.9 1343L250.3 1342.3M250.3 1342.3L247.5 1341.7M270.1 1346.4L268.7 1346.1M268.7 1346.1L265 1345.4M265 1345.4L261.3 1344.6M261.3 1344.6L259 1344.1M280.7 1348.5L280 1348.4M280 1348.4L276.2 1347.6M276.2 1347.6L272.5 1346.9M272.5 1346.9L270.1 1346.4M291.1 1350.4L287.8 1349.8M287.8 1349.8L283.9 1349.1M283.9 1349.1L280.7 1348.5M301.1 1352.2L299.5 1351.9M299.5 1351.9L295.6 1351.2M295.6 1351.2L291.6 1350.5M291.6 1350.5L291.1 1350.4M310.8 1353.9L307.5 1353.3M307.5 1353.3L303.5 1352.6M303.5 1352.6L301.1 1352.2M320.2 1355.4L319.7 1355.3M319.7 1355.3L315.6 1354.6M315.6 1354.6L311.5 1354M311.5 1354L310.8 1353.9M329.5 1356.8L328 1356.6M328 1356.6L323.8 1355.9M323.8 1355.9L320.2 1355.4M338.4 1358.1L336.4 1357.8M336.4 1357.8L332.2 1357.2M332.2 1357.2L329.5 1356.8M347.2 1359.4L344.9 1359M344.9 1359L340.7 1358.4M340.7 1358.4L338.4 1358.1M355.8 1360.5L353.6 1360.2M353.6 1360.2L349.3 1359.6M349.3 1359.6L347.2 1359.4M364.2 1361.5L362.4 1361.3M362.4 1361.3L358 1360.8M358 1360.8L355.8 1360.5M372.4 1362.5L371.4 1362.4M371.4 1362.4L366.9 1361.9M366.9 1361.9L364.2 1361.5M380.5 1363.4L376 1362.9M376 1362.9L372.4 1362.5M388.3 1364.2L385.2 1363.9M385.2 1363.9L380.5 1363.4M380.5 1363.4L380.5 1363.4M396 1365L394.6 1364.8M394.6 1364.8L389.8 1364.4M389.8 1364.4L388.3 1364.2M403.6 1365.7L399.3 1365.3M399.3 1365.3L396 1365M411 1366.3L409 1366.1M409 1366.1L404.1 1365.7M404.1 1365.7L403.6 1365.7M418.3 1366.8L413.9 1366.5M413.9 1366.5L411 1366.3M425.4 1367.3L423.8 1367.2M423.8 1367.2L418.8 1366.9M418.8 1366.9L418.3 1366.8M432.4 1367.8L428.9 1367.5M428.9 1367.5L425.4 1367.3M439.3 1368.1L439.2 1368.1M439.2 1368.1L434 1367.9M434 1367.9L432.4 1367.8M446.1 1368.5L444.5 1368.4M444.5 1368.4L439.3 1368.1M452.7 1368.7L449.8 1368.6M449.8 1368.6L446.1 1368.5M459.2 1369L455.2 1368.8M455.2 1368.8L452.7 1368.7M465.6 1369.1L460.7 1369M460.7 1369L459.2 1369M471.8 1369.3L466.2 1369.1M466.2 1369.1L465.6 1369.1M478 1369.3L477.6 1369.3M477.6 1369.3L471.8 1369.3M471.8 1369.3L471.8 1369.3M484 1369.4L483.4 1369.4M483.4 1369.4L478 1369.3M489.9 1369.3L489.3 1369.3M489.3 1369.3L484 1369.4M495.7 1369.3L495.4 1369.3M495.4 1369.3L489.9 1369.3M501.4 1369.2L495.7 1369.3M507 1369L501.6 1369.2M501.6 1369.2L501.4 1369.2M512.5 1368.8L507.9 1369M507.9 1369L507 1369M517.9 1368.6L514.4 1368.7M514.4 1368.7L512.5 1368.8M523.1 1368.3L521.1 1368.4M521.1 1368.4L517.9 1368.6M528.3 1368L527.9 1368M527.9 1368L523.1 1368.3M533.3 1367.6L528.3 1368M538.3 1367.2L535.1 1367.5M535.1 1367.5L533.3 1367.6M543.1 1366.8L542.5 1366.8M542.5 1366.8L538.3 1367.2M547.9 1366.3L543.1 1366.8M552.5 1365.8L550.4 1366M550.4 1366L547.9 1366.3M557.1 1365.2L552.5 1365.8M561.5 1364.6L558.7 1365M558.7 1365L557.1 1365.2M565.9 1364L561.5 1364.6M570.1 1363.3L567.6 1363.7M567.6 1363.7L565.9 1364M574.2 1362.6L570.1 1363.3M578.2 1361.9L577.6 1362M577.6 1362L574.2 1362.6M582.2 1361.1L578.2 1361.9M586 1360.3L582.2 1361.1M589.7 1359.4L589.4 1359.5M589.4 1359.5L586 1360.3M593.3 1358.5L589.7 1359.4M596.8 1357.6L593.3 1358.5M600.3 1356.6L596.8 1357.6M603.6 1355.6L600.3 1356.6M606.8 1354.6L603.6 1355.6M609.8 1353.5L607.5 1354.3M607.5 1354.3L606.8 1354.6M612.8 1352.4L609.8 1353.5M615.7 1351.2L612.8 1352.4M618.5 1350L615.7 1351.2M621.1 1348.8L618.5 1350M623.7 1347.6L621.1 1348.8M624.2 1347.3L623.7 1347.6M624.2 1347.3L626.1 1346.3M628.4 1344.9L626.1 1346.3M630.6 1343.5L628.4 1344.9M632.7 1342.1L630.6 1343.5M634.6 1340.6L632.7 1342.1M635.2 1340.2L634.6 1340.6M635.2 1340.2L636.5 1339.1M638.2 1337.6L636.5 1339.1M639.7 1336L638.2 1337.6M640 1335.8L639.7 1336M640 1335.8L641.2 1334.4M642.5 1332.7L641.2 1334.4M642.9 1332.1L642.5 1332.7M642.9 1332.1L643.7 1331M644.7 1329.3L643.7 1331M644.9 1328.9L644.7 1329.3M644.9 1328.9L645.6 1327.5M646.2 1326L645.6 1327.5M646.2 1326L646.4 1325.6M647 1323.7L646.4 1325.6M647.1 1323.2L647 1323.7M647.1 1323.2L647.4 1321.7M647.6 1320.7L647.4 1321.7M647.6 1320.7L647.7 1319.7M647.8 1318.2L647.7 1319.7M647.8 1318.2L647.8 1317.7M647.8 1315.9L647.8 1317.7M647.8 1315.9L647.7 1315.6M647.5 1313.7L647.7 1315.6M647.5 1313.7L647.5 1313.4M647.1 1311.5L647.5 1313.4M647.1 1311.5L647.1 1311.2M646.6 1309.5L647.1 1311.2M646.6 1309.5L646.4 1308.9M645.9 1307.4L646.4 1308.9M645.9 1307.4L645.6 1306.5M645.1 1305.5L645.6 1306.5M645.1 1305.5L644.5 1304.1M644.2 1303.6L644.5 1304.1M644.2 1303.6L643.3 1301.7M643.3 1301.7L643.2 1301.5M642.2 1299.9L643.2 1301.5M642.2 1299.9L641.6 1298.9M641 1298.1L641.6 1298.9M641 1298.1L639.8 1296.3M639.8 1296.3L639.8 1296.3M638.6 1294.6L639.8 1296.3M638.6 1294.6L637.7 1293.5M637.2 1292.9L637.7 1293.5M637.2 1292.9L635.8 1291.3M635.8 1291.3L635.3 1290.6M634.4 1289.6L635.3 1290.6M634.4 1289.6L632.9 1288M632.9 1288L632.5 1287.6M631.3 1286.5L632.5 1287.6M631.3 1286.5L629.7 1284.9M629.7 1284.9L629.3 1284.5M628.1 1283.4L629.3 1284.5M628.1 1283.4L626.4 1281.9M626.4 1281.9L625.7 1281.2M624.7 1280.4L625.7 1281.2M624.7 1280.4L623 1278.9M623 1278.9L621.7 1277.8M621.2 1277.5L621.7 1277.8M621.2 1277.5L619.4 1276M619.4 1276L617.6 1274.6M617.6 1274.6L617 1274.2M615.7 1273.2L617 1274.2M615.7 1273.2L613.8 1271.9M613.8 1271.9L611.9 1270.5M611.9 1270.5L611.8 1270.4M610 1269.1L611.8 1270.4M610 1269.1L608 1267.8M608 1267.8L606 1266.5M606 1266.5L605.7 1266.3M604 1265.2L605.7 1266.3M604 1265.2L602 1263.9M602 1263.9L599.9 1262.6M599.9 1262.6L598.7 1261.9M597.8 1261.4L598.7 1261.9M597.8 1261.4L595.7 1260.1M595.7 1260.1L593.6 1258.9M593.6 1258.9L591.5 1257.7M591.5 1257.7L590.5 1257.1M589.3 1256.4L590.5 1257.1M589.3 1256.4L587.2 1255.2M587.2 1255.2L585 1254M585 1254L582.8 1252.9M582.8 1252.9L580.6 1251.7M580.6 1251.7L580.4 1251.6M578.3 1250.5L580.4 1251.6M578.3 1250.5L576.1 1249.4M576.1 1249.4L573.8 1248.3M573.8 1248.3L571.6 1247.1M571.6 1247.1L569.3 1246M569.3 1246L567.7 1245.2M567 1244.9L567.7 1245.2M567 1244.9L564.6 1243.8M564.6 1243.8L562.3 1242.7M562.3 1242.7L560 1241.6M560 1241.6L557.6 1240.5M557.6 1240.5L555.2 1239.5M555.2 1239.5L552.9 1238.4M552.9 1238.4L550.5 1237.4M550.5 1237.4L549.7 1237M548.1 1236.3L549.7 1237M548.1 1236.3L545.7 1235.3M545.7 1235.3L543.2 1234.3M543.2 1234.3L540.8 1233.3M540.8 1233.3L538.3 1232.3M538.3 1232.3L535.9 1231.3M535.9 1231.3L533.4 1230.3M533.4 1230.3L530.9 1229.3M530.9 1229.3L528.4 1228.3M528.4 1228.3L525.9 1227.4M525.9 1227.4L523.4 1226.4M523.4 1226.4L520.9 1225.4M520.9 1225.4L518.4 1224.5M518.4 1224.5L515.8 1223.6M515.8 1223.6L513.3 1222.6M513.3 1222.6L510.7 1221.7M510.7 1221.7L508.2 1220.8M508.2 1220.8L505.6 1219.9M505.6 1219.9L503 1219M503 1219L500.4 1218.1M500.4 1218.1L497.8 1217.2M497.8 1217.2L495.2 1216.3M495.2 1216.3L492.6 1215.4M492.6 1215.4L489.9 1214.5M489.9 1214.5L487.3 1213.7M487.3 1213.7L484.6 1212.8M484.6 1212.8L482 1212M482 1212L479.3 1211.1M479.3 1211.1L476.6 1210.3M476.6 1210.3L473.9 1209.4M473.9 1209.4L471.2 1208.6M471.2 1208.6L468.5 1207.8M468.5 1207.8L465.8 1207M465.8 1207L463.1 1206.1M463.1 1206.1L460.4 1205.3" stroke="#58ff00" stroke-width="2.6" fill="none" stroke-linecap="round"/><path d="M209.9 1300.9L208.6 1300.5M208.6 1300.5L205.6 1299.6M205.6 1299.6L202.6 1298.8M202.6 1298.8L199.6 1297.9M199.6 1297.9L196.7 1297M225.8 1305.3L224.1 1304.8M224.1 1304.8L220.9 1304M220.9 1304L217.8 1303.1M217.8 1303.1L214.7 1302.3M214.7 1302.3L211.6 1301.4M211.6 1301.4L209.9 1300.9M239.8 1308.8L237 1308.1M237 1308.1L233.7 1307.3M233.7 1307.3L230.5 1306.5M230.5 1306.5L227.3 1305.7M227.3 1305.7L225.8 1305.3M252.5 1311.8L250.3 1311.3M250.3 1311.3L247 1310.5M247 1310.5L243.6 1309.7M243.6 1309.7L240.3 1308.9M240.3 1308.9L239.8 1308.8M264.4 1314.4L264.2 1314.4M264.2 1314.4L260.7 1313.6M260.7 1313.6L257.2 1312.9M257.2 1312.9L253.8 1312.1M253.8 1312.1L252.5 1311.8M275.5 1316.7L274.9 1316.6M274.9 1316.6L271.3 1315.9M271.3 1315.9L267.8 1315.1M267.8 1315.1L264.4 1314.4M286 1318.8L286 1318.7M286 1318.7L282.3 1318M282.3 1318L278.6 1317.3M278.6 1317.3L275.5 1316.7M296 1320.6L293.5 1320.1M293.5 1320.1L289.7 1319.4M289.7 1319.4L286 1318.8M305.5 1322.2L305 1322.1M305 1322.1L301.2 1321.4M301.2 1321.4L297.3 1320.8M297.3 1320.8L296 1320.6M314.7 1323.6L312.9 1323.3M312.9 1323.3L309 1322.7M309 1322.7L305.5 1322.2M323.6 1324.9L321 1324.6M321 1324.6L316.9 1324M316.9 1324L314.7 1323.6M332.1 1326.1L329.2 1325.7M329.2 1325.7L325.1 1325.1M325.1 1325.1L323.6 1324.9M340.4 1327.2L337.6 1326.8M337.6 1326.8L333.4 1326.3M333.4 1326.3L332.1 1326.1M348.4 1328.1L346.2 1327.8M346.2 1327.8L341.9 1327.3M341.9 1327.3L340.4 1327.2M356.2 1328.9L355 1328.8M355 1328.8L350.6 1328.3M350.6 1328.3L348.4 1328.1M363.8 1329.7L359.5 1329.3M359.5 1329.3L356.2 1328.9M371.1 1330.3L368.6 1330.1M368.6 1330.1L364 1329.7M364 1329.7L363.8 1329.7M378.2 1330.9L378 1330.9M378 1330.9L373.3 1330.5M373.3 1330.5L371.1 1330.3M385.1 1331.4L382.8 1331.2M382.8 1331.2L378.2 1330.9M391.9 1331.8L387.7 1331.5M387.7 1331.5L385.1 1331.4M398.5 1332.1L397.7 1332.1M397.7 1332.1L392.6 1331.8M392.6 1331.8L391.9 1331.8M404.9 1332.4L402.8 1332.3M402.8 1332.3L398.5 1332.1M411.1 1332.6L408.1 1332.5M408.1 1332.5L404.9 1332.4M417.2 1332.7L413.4 1332.6M413.4 1332.6L411.1 1332.6M423.1 1332.7L418.9 1332.7M418.9 1332.7L417.2 1332.7M428.9 1332.7L424.5 1332.7M424.5 1332.7L423.1 1332.7M434.5 1332.7L430.2 1332.7M430.2 1332.7L428.9 1332.7M440 1332.6L436.1 1332.7M436.1 1332.7L434.5 1332.7M445.3 1332.4L442.2 1332.5M442.2 1332.5L440 1332.6M450.5 1332.2L448.5 1332.2M448.5 1332.2L445.3 1332.4M455.6 1331.9L455.1 1331.9M455.1 1331.9L450.5 1332.2M460.5 1331.5L455.6 1331.9M465.3 1331.1L462.1 1331.4M462.1 1331.4L460.5 1331.5M469.9 1330.7L469.5 1330.7M469.5 1330.7L465.3 1331.1M474.4 1330.2L469.9 1330.7M478.8 1329.7L477.6 1329.8M477.6 1329.8L474.4 1330.2M483 1329.1L478.8 1329.7M487.1 1328.4L486.6 1328.5M486.6 1328.5L483 1329.1M491.1 1327.7L487.1 1328.4M494.9 1327L491.1 1327.7M498.6 1326.2L497.6 1326.4M497.6 1326.4L494.9 1327M502.2 1325.3L498.6 1326.2M505.6 1324.4L502.2 1325.3M508.9 1323.5L505.6 1324.4M512.1 1322.5L508.9 1323.5M515.1 1321.4L512.1 1322.5M517.9 1320.3L515.1 1321.4M520.7 1319.2L517.9 1320.3M523.2 1318L520.7 1319.2M525.7 1316.7L523.2 1318M527.9 1315.4L525.7 1316.7M530.1 1314.1L527.9 1315.4M531.6 1312.9L530.1 1314.1M531.6 1312.9L532 1312.6M533.8 1311.2L532 1312.6M535.4 1309.6L533.8 1311.2M536.1 1309L535.4 1309.6M536.1 1309L536.9 1308M538.1 1306.4L536.9 1308M538.5 1305.8L538.1 1306.4M538.5 1305.8L539.2 1304.7M540.1 1303L539.2 1304.7M540.1 1303L540.1 1302.9M540.8 1301L540.1 1302.9M540.9 1300.5L540.8 1301M540.9 1300.5L541.3 1299.1M541.4 1298.1L541.3 1299.1M541.4 1298.1L541.5 1297.1M541.5 1295.9L541.5 1297.1M541.5 1295.9L541.5 1295M541.4 1293.8L541.5 1295M541.4 1293.8L541.2 1292.8M541 1291.8L541.2 1292.8M541 1291.8L540.7 1290.6M540.5 1289.9L540.7 1290.6M540.5 1289.9L539.9 1288.2M539.8 1288L539.9 1288.2M539.8 1288L539 1286.2M539 1286.2L538.7 1285.7M538 1284.5L538.7 1285.7M538 1284.5L537.2 1283.1M537 1282.8L537.2 1283.1M537 1282.8L535.8 1281.1M535.8 1281.1L535.3 1280.4M534.6 1279.5L535.3 1280.4M534.6 1279.5L533.3 1277.9M533.3 1277.9L532.9 1277.5M531.9 1276.4L532.9 1277.5M531.9 1276.4L530.5 1274.9M530.5 1274.9L530 1274.4M529 1273.4L530 1274.4M529 1273.4L527.4 1271.9M527.4 1271.9L526.5 1271.1M525.8 1270.5L526.5 1271.1M525.8 1270.5L524.1 1269.1M524.1 1269.1L522.4 1267.7M522.4 1267.7L522.3 1267.5M520.7 1266.3L522.3 1267.5M520.7 1266.3L518.9 1265M518.9 1265L517.1 1263.7M517.1 1263.6L517.1 1263.7M517.1 1263.6L515.2 1262.3M515.2 1262.3L513.3 1261.1M513.3 1261.1L511.4 1259.8M511.4 1259.8L510.7 1259.4M509.4 1258.5L510.7 1259.4M509.4 1258.5L507.4 1257.3M507.4 1257.3L505.4 1256.1M505.4 1256.1L503.3 1254.9M503.3 1254.9L502.6 1254.4M501.2 1253.7L502.6 1254.4M501.2 1253.7L499.1 1252.5M499.1 1252.5L497 1251.3M497 1251.3L494.8 1250.2M494.8 1250.2L492.6 1249.1M492.6 1249.1L491.5 1248.5M490.4 1247.9L491.5 1248.5M490.4 1247.9L488.2 1246.8M488.2 1246.8L486 1245.7M486 1245.7L483.7 1244.6M483.7 1244.6L481.4 1243.6M481.4 1243.6L479.1 1242.5M479.1 1242.5L476.7 1241.4M476.7 1241.4L474.4 1240.4M474.4 1240.4L473.5 1240M472 1239.4L473.5 1240M472 1239.4L469.6 1238.3M469.6 1238.3L467.2 1237.3M467.2 1237.3L464.8 1236.3M464.8 1236.3L462.4 1235.4M462.4 1235.4L459.9 1234.4M459.9 1234.4L457.4 1233.4M457.4 1233.4L454.9 1232.4M454.9 1232.4L452.4 1231.5M452.4 1231.5L449.9 1230.5M449.9 1230.5L447.4 1229.6M447.4 1229.6L444.8 1228.7M444.8 1228.7L442.2 1227.8M442.2 1227.8L439.7 1226.9M439.7 1226.9L437.1 1226M437.1 1226L434.4 1225.1M434.4 1225.1L431.8 1224.2M431.8 1224.2L429.2 1223.3M429.2 1223.3L426.5 1222.5M426.5 1222.5L423.8 1221.6M423.8 1221.6L421.1 1220.8M421.1 1220.8L418.4 1219.9" stroke="#f8ff00" stroke-width="2.6" fill="none" stroke-linecap="round"/><g fill="#000"><circle cx="483.5" cy="1464.5" r="2.9"/><circle cx="483.5" cy="1464.5" r="2.9"/><circle cx="568.1" cy="1426.6" r="2.9"/><circle cx="398.9" cy="1426.6" r="2.9"/><circle cx="652.7" cy="1388.8" r="2.9"/><circle cx="314.2" cy="1388.8" r="2.9"/><circle cx="737.3" cy="1350.9" r="2.9"/><circle cx="229.5" cy="1350.9" r="2.9"/><circle cx="821.9" cy="1313" r="2.9"/><circle cx="144.9" cy="1313" r="2.9"/><circle cx="140" cy="1210" r="2.9"/><circle cx="137.5" cy="1163.5" r="2.9"/><circle cx="134.9" cy="1116.9" r="2.9"/><circle cx="132.4" cy="1070.4" r="2.9"/><circle cx="129.9" cy="1023.8" r="2.9"/><circle cx="127.4" cy="977.3" r="2.9"/><circle cx="124.8" cy="930.7" r="2.9"/><circle cx="122.3" cy="884.2" r="2.9"/></g><circle cx="129" cy="1015.8" r="7.4" fill="#ffc6c6" stroke="#4a3434" stroke-width="1.1"/><g stroke="#1a1a1a" stroke-width="1.05" stroke-linejoin="round" stroke-opacity="0.85"><polygon points="484.3,941.2 500.2,955.3 484.5,952.8 468.6,938.5" fill="#05c400"/><polygon points="500.2,944.4 516,958.4 500.2,955.3 484.3,941.2" fill="#09c500"/><polygon points="468.2,928.6 484.3,941.2 468.6,938.5 452.5,925.8" fill="#42cf00"/><polygon points="516.3,948.2 532.1,962 516,958.4 500.2,944.4" fill="#0bc600"/><polygon points="484.2,932 500.2,944.4 484.3,941.2 468.2,928.6" fill="#46d100"/><polygon points="451.9,917.7 468.2,928.6 452.5,925.8 436.1,914.7" fill="#80dc00"/><polygon points="532.5,952.5 548.3,966.2 532.1,962 516.3,948.2" fill="#0cc700"/><polygon points="500.3,935.9 516.3,948.2 500.2,944.4 484.2,932" fill="#48d200"/><polygon points="467.8,921.2 484.2,932 468.2,928.6 451.9,917.7" fill="#83dd00"/><polygon points="549,957.5 564.7,971 548.3,966.2 532.5,952.5" fill="#0ac900"/><polygon points="435.3,908.4 451.9,917.7 436.1,914.7 419.5,905.3" fill="#beea00"/><polygon points="516.6,940.5 532.5,952.5 516.3,948.2 500.3,935.9" fill="#48d300"/><polygon points="484,925.3 500.3,935.9 484.2,932 467.8,921.2" fill="#85df00"/><polygon points="565.6,963.1 581.2,976.4 564.7,971 549,957.5" fill="#07ca00"/><polygon points="451.3,912.1 467.8,921.2 451.9,917.7 435.3,908.4" fill="#c1eb00"/><polygon points="533,945.6 549,957.5 532.5,952.5 516.6,940.5" fill="#46d500"/><polygon points="418.4,900.9 435.3,908.4 419.5,905.3 402.6,897.5" fill="#f8f500"/><polygon points="500.3,930.1 516.6,940.5 500.3,935.9 484,925.3" fill="#85e000"/><polygon points="582.4,969.2 598,982.4 581.2,976.4 565.6,963.1" fill="#02cb00"/><polygon points="467.4,916.4 484,925.3 467.8,921.2 451.3,912.1" fill="#c3ed00"/><polygon points="549.7,951.4 565.6,963.1 549,957.5 533,945.6" fill="#43d600"/><polygon points="434.4,904.8 451.3,912.1 435.3,908.4 418.4,900.9" fill="#faf500"/><polygon points="401.4,895.1 418.4,900.9 402.6,897.5 385.6,891.6" fill="#ffd000"/><polygon points="516.8,935.4 533,945.6 516.6,940.5 500.3,930.1" fill="#83e200"/><polygon points="599.4,976 615,989 598,982.4 582.4,969.2" fill="#00cd05"/><polygon points="483.8,921.4 500.3,930.1 484,925.3 467.4,916.4" fill="#c2ee00"/><polygon points="566.6,957.7 582.4,969.2 565.6,963.1 549.7,951.4" fill="#3dd800"/><polygon points="450.6,909.3 467.4,916.4 451.3,912.1 434.4,904.8" fill="#fcf800"/><polygon points="417.4,899.2 434.4,904.8 418.4,900.9 401.4,895.1" fill="#ffcf00"/><polygon points="533.5,941.3 549.7,951.4 533,945.6 516.8,935.4" fill="#7ee300"/><polygon points="616.6,983.5 632.1,996.2 615,989 599.4,976" fill="#00ce0d"/><polygon points="384.1,891.1 401.4,895.1 385.6,891.6 368.3,887.4" fill="#ffac00"/><polygon points="500.3,926.9 516.8,935.4 500.3,930.1 483.8,921.4" fill="#bff000"/><polygon points="583.6,964.7 599.4,976 582.4,969.2 566.6,957.7" fill="#35d900"/><polygon points="467,914.4 483.8,921.4 467.4,916.4 450.6,909.3" fill="#fdfc00"/><polygon points="433.6,903.9 450.6,909.3 434.4,904.8 417.4,899.2" fill="#ffd100"/><polygon points="550.4,947.9 566.6,957.7 549.7,951.4 533.5,941.3" fill="#78e500"/><polygon points="634,991.5 649.4,1004.1 632.1,996.2 616.6,983.5" fill="#00cf18"/><polygon points="400.1,895.5 417.4,899.2 401.4,895.1 384.1,891.1" fill="#ffac00"/><polygon points="366.6,889 384.1,891.1 368.3,887.4 350.8,885.1" fill="#ff8f00"/><polygon points="517.1,933 533.5,941.3 516.8,935.4 500.3,926.9" fill="#baf200"/><polygon points="600.8,972.3 616.6,983.5 599.4,976 583.6,964.7" fill="#2cda00"/><polygon points="483.6,920.2 500.3,926.9 483.8,921.4 467,914.4" fill="#fbff00"/><polygon points="567.5,955.1 583.6,964.7 566.6,957.7 550.4,947.9" fill="#6fe600"/><polygon points="651.5,1000.2 666.9,1012.6 649.4,1004.1 634,991.5" fill="#00d125"/><polygon points="450,909.3 467,914.4 450.6,909.3 433.6,903.9" fill="#ffd500"/><polygon points="416.4,900.4 433.6,903.9 417.4,899.2 400.1,895.5" fill="#ffae00"/><polygon points="534,939.8 550.4,947.9 533.5,941.3 517.1,933" fill="#b3f300"/><polygon points="382.7,893.6 400.1,895.5 384.1,891.1 366.6,889" fill="#ff9000"/><polygon points="618.3,980.6 634,991.5 616.6,983.5 600.8,972.3" fill="#20dc00"/><polygon points="348.9,888.8 366.6,889 350.8,885.1 333.1,884.6" fill="#ff7a00"/><polygon points="500.4,926.5 517.1,933 500.3,926.9 483.6,920.2" fill="#f4ff00"/><polygon points="669.2,1009.6 684.5,1021.7 666.9,1012.6 651.5,1000.2" fill="#00d233"/><polygon points="584.8,963 600.8,972.3 583.6,964.7 567.5,955.1" fill="#65e800"/><polygon points="466.6,915.3 483.6,920.2 467,914.4 450,909.3" fill="#ffdb00"/><polygon points="432.8,906 450,909.3 433.6,903.9 416.4,900.4" fill="#ffb300"/><polygon points="551.2,947.3 567.5,955.1 550.4,947.9 534,939.8" fill="#a9f500"/><polygon points="398.9,898.8 416.4,900.4 400.1,895.5 382.7,893.6" fill="#ff9300"/><polygon points="635.9,989.6 651.5,1000.2 634,991.5 618.3,980.6" fill="#12dd00"/><polygon points="365,893.6 382.7,893.6 366.6,889 348.9,888.8" fill="#ff7c00"/><polygon points="331.1,890.5 348.9,888.8 333.1,884.6 315.2,886.1" fill="#ff740c"/><polygon points="517.4,933.6 534,939.8 517.1,933 500.4,926.5" fill="#eaff00"/><polygon points="687.1,1019.6 702.4,1031.5 684.5,1021.7 669.2,1009.6" fill="#00d344"/><polygon points="602.3,971.5 618.3,980.6 600.8,972.3 584.8,963" fill="#58e900"/><polygon points="483.4,921.9 500.4,926.5 483.6,920.2 466.6,915.3" fill="#ffe300"/><polygon points="449.4,912.2 466.6,915.3 450,909.3 432.8,906" fill="#ffba00"/><polygon points="568.5,955.4 584.8,963 567.5,955.1 551.2,947.3" fill="#9df600"/><polygon points="653.6,999.1 669.2,1009.6 651.5,1000.2 635.9,989.6" fill="#02de00"/><polygon points="415.3,904.6 432.8,906 416.4,900.4 398.9,898.8" fill="#ff9900"/><polygon points="381.2,899.1 398.9,898.8 382.7,893.6 365,893.6" fill="#ff8000"/><polygon points="534.5,941.2 551.2,947.3 534,939.8 517.4,933.6" fill="#deff00"/><polygon points="347.1,895.6 365,893.6 348.9,888.8 331.1,890.5" fill="#ff780f"/><polygon points="313,894.2 331.1,890.5 315.2,886.1 297.2,889.5" fill="#ff7d24"/><polygon points="705.2,1030.3 720.4,1041.9 702.4,1031.5 687.1,1019.6" fill="#00d457"/><polygon points="619.9,980.6 635.9,989.6 618.3,980.6 602.3,971.5" fill="#49eb00"/><polygon points="500.4,929.1 517.4,933.6 500.4,926.5 483.4,921.9" fill="#ffed00"/><polygon points="466.3,919.1 483.4,921.9 466.6,915.3 449.4,912.2" fill="#ffc300"/><polygon points="586,964.1 602.3,971.5 584.8,963 568.5,955.4" fill="#8ff700"/><polygon points="671.6,1009.4 687.1,1019.6 669.2,1009.6 653.6,999.1" fill="#00e010"/><polygon points="432,911.1 449.4,912.2 432.8,906 415.3,904.6" fill="#ffa100"/><polygon points="397.7,905.2 415.3,904.6 398.9,898.8 381.2,899.1" fill="#ff8700"/><polygon points="551.9,949.6 568.5,955.4 551.2,947.3 534.5,941.2" fill="#d0ff00"/><polygon points="723.5,1041.6 738.5,1053.1 720.4,1041.9 705.2,1030.3" fill="#00d66b"/><polygon points="363.4,901.3 381.2,899.1 365,893.6 347.1,895.6" fill="#ff7e11"/><polygon points="329.1,899.6 347.1,895.6 331.1,890.5 313,894.2" fill="#ff8126"/><polygon points="637.7,990.5 653.6,999.1 635.9,989.6 619.9,980.6" fill="#37ec00"/><polygon points="294.8,899.9 313,894.2 297.2,889.5 279,894.9" fill="#ff8b3a"/><polygon points="517.6,937.1 534.5,941.2 517.4,933.6 500.4,929.1" fill="#fffa00"/><polygon points="603.7,973.5 619.9,980.6 602.3,971.5 586,964.1" fill="#7ff900"/><polygon points="689.7,1020.3 705.2,1030.3 687.1,1019.6 671.6,1009.4" fill="#00e124"/><polygon points="483.3,926.6 500.4,929.1 483.4,921.9 466.3,919.1" fill="#ffce00"/><polygon points="448.8,918.2 466.3,919.1 449.4,912.2 432,911.1" fill="#ffab00"/><polygon points="741.9,1053.7 756.9,1064.9 738.5,1053.1 723.5,1041.6" fill="#00d782"/><polygon points="569.4,958.6 586,964.1 568.5,955.4 551.9,949.6" fill="#bfff00"/><polygon points="414.3,911.9 432,911.1 415.3,904.6 397.7,905.2" fill="#ff8f00"/><polygon points="655.8,1001 671.6,1009.4 653.6,999.1 637.7,990.5" fill="#24ed00"/><polygon points="379.8,907.7 397.7,905.2 381.2,899.1 363.4,901.3" fill="#ff8613"/><polygon points="276.4,907.6 294.8,899.9 279,894.9 260.6,902.4" fill="#ff9d4e"/><polygon points="345.3,905.6 363.4,901.3 347.1,895.6 329.1,899.6" fill="#ff8728"/><polygon points="310.8,905.5 329.1,899.6 313,894.2 294.8,899.9" fill="#ff903c"/><polygon points="535,945.6 551.9,949.6 534.5,941.2 517.6,937.1" fill="#f5ff00"/><polygon points="708,1032 723.5,1041.6 705.2,1030.3 689.7,1020.3" fill="#00e23a"/><polygon points="621.6,983.6 637.7,990.5 619.9,980.6 603.7,973.5" fill="#6cfa00"/><polygon points="500.5,934.8 517.6,937.1 500.4,929.1 483.3,926.6" fill="#ffdc00"/><polygon points="465.9,926 483.3,926.6 466.3,919.1 448.8,918.2" fill="#ffb700"/><polygon points="760.5,1066.4 775.4,1077.3 756.9,1064.9 741.9,1053.7" fill="#00d89b"/><polygon points="587.2,968.2 603.7,973.5 586,964.1 569.4,958.6" fill="#adff00"/><polygon points="431.2,919.3 448.8,918.2 432,911.1 414.3,911.9" fill="#ff9a00"/><polygon points="674,1012.2 689.7,1020.3 671.6,1009.4 655.8,1001" fill="#0eef00"/><polygon points="257.9,917.4 276.4,907.6 260.6,902.4 242.1,911.8" fill="#ffb15e"/><polygon points="396.5,914.7 414.3,911.9 397.7,905.2 379.8,907.7" fill="#ff8f15"/><polygon points="292.5,913.6 310.8,905.5 294.8,899.9 276.4,907.6" fill="#ffa24f"/><polygon points="361.8,912.2 379.8,907.7 363.4,901.3 345.3,905.6" fill="#ff8f2a"/><polygon points="327.1,911.8 345.3,905.6 329.1,899.6 310.8,905.5" fill="#ff963e"/><polygon points="552.6,954.9 569.4,958.6 551.9,949.6 535,945.6" fill="#e3ff00"/><polygon points="726.5,1044.3 741.9,1053.7 723.5,1041.6 708,1032" fill="#00e453"/><polygon points="639.6,994.4 655.8,1001 637.7,990.5 621.6,983.6" fill="#56fc00"/><polygon points="517.9,943.6 535,945.6 517.6,937.1 500.5,934.8" fill="#ffec00"/><polygon points="779.2,1079.9 794.1,1090.5 775.4,1077.3 760.5,1066.4" fill="#00d9b7"/><polygon points="483.1,934.4 500.5,934.8 483.3,926.6 465.9,926" fill="#ffc500"/><polygon points="605.1,978.6 621.6,983.6 603.7,973.5 587.2,968.2" fill="#98ff00"/><polygon points="692.3,1024.1 708,1032 689.7,1020.3 674,1012.2" fill="#00f00a"/><polygon points="448.3,927.3 465.9,926 448.8,918.2 431.2,919.3" fill="#ffa701"/><polygon points="239.3,929.3 257.9,917.4 242.1,911.8 223.5,923.4" fill="#ffc66c"/><polygon points="413.3,922.4 431.2,919.3 414.3,911.9 396.5,914.7" fill="#ff9b17"/><polygon points="273.9,923.7 292.5,913.6 276.4,907.6 257.9,917.4" fill="#ffb660"/><polygon points="378.4,919.5 396.5,914.7 379.8,907.7 361.8,912.2" fill="#ff982c"/><polygon points="570.4,964.8 587.2,968.2 569.4,958.6 552.6,954.9" fill="#d0ff00"/><polygon points="308.7,920.2 327.1,911.8 310.8,905.5 292.5,913.6" fill="#ffa851"/><polygon points="343.5,918.8 361.8,912.2 345.3,905.6 327.1,911.8" fill="#ff9d3f"/><polygon points="745.2,1057.3 760.5,1066.4 741.9,1053.7 726.5,1044.3" fill="#00e56e"/><polygon points="657.9,1005.9 674,1012.2 655.8,1001 639.6,994.4" fill="#3efd00"/><polygon points="535.5,953.2 552.6,954.9 535,945.6 517.9,943.6" fill="#fffe00"/><polygon points="798.2,1094.1 813,1104.4 794.1,1090.5 779.2,1079.9" fill="#00dad4"/><polygon points="500.6,943.6 517.9,943.6 500.5,934.8 483.1,934.4" fill="#ffd600"/><polygon points="623.2,989.6 639.6,994.4 621.6,983.6 605.1,978.6" fill="#81ff00"/><polygon points="710.9,1036.7 726.5,1044.3 708,1032 692.3,1024.1" fill="#00f125"/><polygon points="220.6,943.3 239.3,929.3 223.5,923.4 204.8,937" fill="#ffdc78"/><polygon points="465.5,936.1 483.1,934.4 465.9,926 448.3,927.3" fill="#ffb703"/><polygon points="255.3,935.9 273.9,923.7 257.9,917.4 239.3,929.3" fill="#ffcb6d"/><polygon points="430.4,930.7 448.3,927.3 431.2,919.3 413.3,922.4" fill="#ffa819"/><polygon points="588.3,975.5 605.1,978.6 587.2,968.2 570.4,964.8" fill="#baff00"/><polygon points="764,1071 779.2,1079.9 760.5,1066.4 745.2,1057.3" fill="#00e68b"/><polygon points="290.2,930.6 308.7,920.2 292.5,913.6 273.9,923.7" fill="#ffbb61"/><polygon points="395.3,927.5 413.3,922.4 396.5,914.7 378.4,919.5" fill="#ffa32d"/><polygon points="325.1,927.4 343.5,918.8 327.1,911.8 308.7,920.2" fill="#ffaf52"/><polygon points="360.2,926.4 378.4,919.5 361.8,912.2 343.5,918.8" fill="#ffa641"/><polygon points="676.3,1018 692.3,1024.1 674,1012.2 657.9,1005.9" fill="#24fe00"/><polygon points="817.3,1108.9 832,1119 813,1104.4 798.2,1094.1" fill="#00c3dc"/><polygon points="553.3,963.4 570.4,964.8 552.6,954.9 535.5,953.2" fill="#ecff00"/><polygon points="729.6,1050 745.2,1057.3 726.5,1044.3 710.9,1036.7" fill="#00f242"/><polygon points="641.5,1001.4 657.9,1005.9 639.6,994.4 623.2,989.6" fill="#67ff00"/><polygon points="201.7,959.4 220.6,943.3 204.8,937 186,952.8" fill="#fff280"/><polygon points="518.2,953.4 535.5,953.2 517.9,943.6 500.6,943.6" fill="#ffe900"/><polygon points="236.5,950.2 255.3,935.9 239.3,929.3 220.6,943.3" fill="#ffe078"/><polygon points="483,945.5 500.6,943.6 483.1,934.4 465.5,936.1" fill="#ffc904"/><polygon points="783.1,1085.5 798.2,1094.1 779.2,1079.9 764,1071" fill="#00e7ab"/><polygon points="606.5,986.8 623.2,989.6 605.1,978.6 588.3,975.5" fill="#a2ff00"/><polygon points="271.5,943.1 290.2,930.6 273.9,923.7 255.3,935.9" fill="#ffd06e"/><polygon points="447.7,939.8 465.5,936.1 448.3,927.3 430.4,930.7" fill="#ffb71a"/><polygon points="694.9,1030.9 710.9,1036.7 692.3,1024.1 676.3,1018" fill="#07ff00"/><polygon points="306.6,938.1 325.1,927.4 308.7,920.2 290.2,930.6" fill="#ffc261"/><polygon points="412.4,936.1 430.4,930.7 413.3,922.4 395.3,927.5" fill="#ffb02f"/><polygon points="341.8,935.3 360.2,926.4 343.5,918.8 325.1,927.4" fill="#ffb753"/><polygon points="377.1,934.7 395.3,927.5 378.4,919.5 360.2,926.4" fill="#ffb142"/><polygon points="571.3,974.3 588.3,975.5 570.4,964.8 553.3,963.4" fill="#d5ff00"/><polygon points="182.8,977.6 201.7,959.4 186,952.8 167.1,970.7" fill="#f5ff87"/><polygon points="748.5,1064 764,1071 745.2,1057.3 729.6,1050" fill="#00f362"/><polygon points="660,1013.9 676.3,1018 657.9,1005.9 641.5,1001.4" fill="#4bff00"/><polygon points="536,963.9 553.3,963.4 535.5,953.2 518.2,953.4" fill="#fffe00"/><polygon points="217.7,966.6 236.5,950.2 220.6,943.3 201.7,959.4" fill="#fff681"/><polygon points="802.2,1100.7 817.3,1108.9 798.2,1094.1 783.1,1085.5" fill="#00e8cd"/><polygon points="500.6,955.6 518.2,953.4 500.6,943.6 483,945.5" fill="#ffdd06"/><polygon points="252.7,957.8 271.5,943.1 255.3,935.9 236.5,950.2" fill="#ffe678"/><polygon points="624.8,998.9 641.5,1001.4 623.2,989.6 606.5,986.8" fill="#88ff00"/><polygon points="465.2,949.5 483,945.5 465.5,936.1 447.7,939.8" fill="#ffc81b"/><polygon points="713.7,1044.5 729.6,1050 710.9,1036.7 694.9,1030.9" fill="#00ff18"/><polygon points="287.9,951 306.6,938.1 290.2,930.6 271.5,943.1" fill="#ffd76e"/><polygon points="429.7,945.5 447.7,939.8 430.4,930.7 412.4,936.1" fill="#ffbe30"/><polygon points="323.2,946.4 341.8,935.3 325.1,927.4 306.6,938.1" fill="#ffca62"/><polygon points="163.8,998 182.8,977.6 167.1,970.7 148.2,990.7" fill="#dcff8b"/><polygon points="394.1,943.6 412.4,936.1 395.3,927.5 377.1,934.7" fill="#ffbd42"/><polygon points="358.7,943.9 377.1,934.7 360.2,926.4 341.8,935.3" fill="#ffc153"/><polygon points="589.5,986 606.5,986.8 588.3,975.5 571.3,974.3" fill="#bcff00"/><polygon points="767.6,1078.8 783.1,1085.5 764,1071 748.5,1064" fill="#00f584"/><polygon points="678.7,1027.1 694.9,1030.9 676.3,1018 660,1013.9" fill="#2eff00"/><polygon points="198.7,985.3 217.7,966.6 201.7,959.4 182.8,977.6" fill="#f0ff87"/><polygon points="554.1,975.2 571.3,974.3 553.3,963.4 536,963.9" fill="#e8ff00"/><polygon points="233.8,974.6 252.7,957.8 236.5,950.2 217.7,966.6" fill="#fffc81"/><polygon points="518.5,966.5 536,963.9 518.2,953.4 500.6,955.6" fill="#fff207"/><polygon points="643.4,1011.7 660,1013.9 641.5,1001.4 624.8,998.9" fill="#6bff00"/><polygon points="144.8,1020.6 163.8,998 148.2,990.7 129.2,1012.9" fill="#c1ff8e"/><polygon points="732.7,1058.9 748.5,1064 729.6,1050 713.7,1044.5" fill="#00ff3a"/><polygon points="269.1,966 287.9,951 271.5,943.1 252.7,957.8" fill="#ffec78"/><polygon points="482.8,959.9 500.6,955.6 483,945.5 465.2,949.5" fill="#ffdb1c"/><polygon points="304.5,959.6 323.2,946.4 306.6,938.1 287.9,951" fill="#ffdf6e"/><polygon points="447.1,955.5 465.2,949.5 447.7,939.8 429.7,945.5" fill="#ffce31"/><polygon points="340.1,955.4 358.7,943.9 341.8,935.3 323.2,946.4" fill="#ffd462"/><polygon points="411.4,953.3 429.7,945.5 412.4,936.1 394.1,943.6" fill="#ffca43"/><polygon points="375.7,953.3 394.1,943.6 377.1,934.7 358.7,943.9" fill="#ffcd54"/><polygon points="607.9,998.3 624.8,998.9 606.5,986.8 589.5,986" fill="#a1ff00"/><polygon points="179.7,1006 198.7,985.3 182.8,977.6 163.8,998" fill="#d7ff8b"/><polygon points="786.8,1094.3 802.2,1100.7 783.1,1085.5 767.6,1078.8" fill="#00f6a8"/><polygon points="697.5,1041 713.7,1044.5 694.9,1030.9 678.7,1027.1" fill="#0dff00"/><polygon points="572.3,987.1 589.5,986 571.3,974.3 554.1,975.2" fill="#ceff00"/><polygon points="214.8,993.6 233.8,974.6 217.7,966.6 198.7,985.3" fill="#ebff86"/><polygon points="536.5,978 554.1,975.2 536,963.9 518.5,966.5" fill="#f4ff08"/><polygon points="250.2,983.2 269.1,966 252.7,957.8 233.8,974.6" fill="#fcff80"/><polygon points="662.1,1025.1 678.7,1027.1 660,1013.9 643.4,1011.7" fill="#4dff00"/><polygon points="751.8,1073.9 767.6,1078.8 748.5,1064 732.7,1058.9" fill="#00ff5e"/><polygon points="160.6,1029 179.7,1006 163.8,998 144.8,1020.6" fill="#bcff8e"/><polygon points="500.7,971.1 518.5,966.5 500.6,955.6 482.8,959.9" fill="#ffef1d"/><polygon points="285.7,975 304.5,959.6 287.9,951 269.1,966" fill="#fff478"/><polygon points="464.8,966.3 482.8,959.9 465.2,949.5 447.1,955.5" fill="#ffe031"/><polygon points="321.4,968.9 340.1,955.4 323.2,946.4 304.5,959.6" fill="#ffe86e"/><polygon points="626.5,1011.4 643.4,1011.7 624.8,998.9 607.9,998.3" fill="#84ff00"/><polygon points="428.9,963.7 447.1,955.5 429.7,945.5 411.4,953.3" fill="#ffd944"/><polygon points="357.2,965 375.7,953.3 358.7,943.9 340.1,955.4" fill="#ffdf62"/><polygon points="393,963.3 411.4,953.3 394.1,943.6 375.7,953.3" fill="#ffd954"/><polygon points="195.8,1014.7 214.8,993.6 198.7,985.3 179.7,1006" fill="#d1ff8b"/><polygon points="716.5,1055.6 732.7,1058.9 713.7,1044.5 697.5,1041" fill="#00ff15"/><polygon points="590.7,999.8 607.9,998.3 589.5,986 572.3,987.1" fill="#b2ff00"/><polygon points="231.2,1002.6 250.2,983.2 233.8,974.6 214.8,993.6" fill="#e4ff86"/><polygon points="771.1,1089.7 786.8,1094.3 767.6,1078.8 751.8,1073.9" fill="#00ff84"/><polygon points="681,1039.4 697.5,1041 678.7,1027.1 662.1,1025.1" fill="#2cff00"/><polygon points="554.8,990.3 572.3,987.1 554.1,975.2 536.5,978" fill="#dbff09"/><polygon points="266.8,992.5 285.7,975 269.1,966 250.2,983.2" fill="#f4ff80"/><polygon points="518.8,983 536.5,978 518.5,966.5 500.7,971.1" fill="#f9ff1e"/><polygon points="176.6,1038.1 195.8,1014.7 179.7,1006 160.6,1029" fill="#b6ff8d"/><polygon points="302.5,984.6 321.4,968.9 304.5,959.6 285.7,975" fill="#fffd78"/><polygon points="482.7,977.8 500.7,971.1 482.8,959.9 464.8,966.3" fill="#fff332"/><polygon points="645.2,1025.2 662.1,1025.1 643.4,1011.7 626.5,1011.4" fill="#64ff00"/><polygon points="338.4,978.9 357.2,965 340.1,955.4 321.4,968.9" fill="#fff26e"/><polygon points="446.6,974.8 464.8,966.3 447.1,955.5 428.9,963.7" fill="#ffea44"/><polygon points="735.7,1071 751.8,1073.9 732.7,1058.9 716.5,1055.6" fill="#00ff3a"/><polygon points="374.4,975.4 393,963.3 375.7,953.3 357.2,965" fill="#ffeb62"/><polygon points="410.5,974 428.9,963.7 411.4,953.3 393,963.3" fill="#ffe754"/><polygon points="212.1,1024.1 231.2,1002.6 214.8,993.6 195.8,1014.7" fill="#caff8a"/><polygon points="609.3,1013.2 626.5,1011.4 607.9,998.3 590.7,999.8" fill="#94ff00"/><polygon points="247.7,1012.3 266.8,992.5 250.2,983.2 231.2,1002.6" fill="#dcff85"/><polygon points="700.1,1054.4 716.5,1055.6 697.5,1041 681,1039.4" fill="#08ff00"/><polygon points="573.2,1003.3 590.7,999.8 572.3,987.1 554.8,990.3" fill="#bfff0a"/><polygon points="283.5,1002.6 302.5,984.6 285.7,975 266.8,992.5" fill="#ebff7f"/><polygon points="537.1,995.6 554.8,990.3 536.5,978 518.8,983" fill="#e0ff1f"/><polygon points="319.5,995 338.4,978.9 321.4,968.9 302.5,984.6" fill="#f7ff77"/><polygon points="664.2,1039.8 681,1039.4 662.1,1025.1 645.2,1025.2" fill="#42ff00"/><polygon points="192.9,1047.9 212.1,1024.1 195.8,1014.7 176.6,1038.1" fill="#aeff8c"/><polygon points="500.8,990 518.8,983 500.7,971.1 482.7,977.8" fill="#f6ff32"/><polygon points="755.1,1087.2 771.1,1089.7 751.8,1073.9 735.7,1071" fill="#00ff60"/><polygon points="355.7,989.6 374.4,975.4 357.2,965 338.4,978.9" fill="#fffe6e"/><polygon points="464.5,986.6 482.7,977.8 464.8,966.3 446.6,974.8" fill="#fffc44"/><polygon points="391.9,986.5 410.5,974 393,963.3 374.4,975.4" fill="#fff862"/><polygon points="428.2,985.5 446.6,974.8 428.9,963.7 410.5,974" fill="#fff754"/><polygon points="628.1,1027.4 645.2,1025.2 626.5,1011.4 609.3,1013.2" fill="#74ff00"/><polygon points="228.6,1034.2 247.7,1012.3 231.2,1002.6 212.1,1024.1" fill="#c2ff89"/><polygon points="719.3,1070.1 735.7,1071 716.5,1055.6 700.1,1054.4" fill="#00ff1d"/><polygon points="591.9,1017.1 609.3,1013.2 590.7,999.8 573.2,1003.3" fill="#a1ff0b"/><polygon points="264.5,1022.7 283.5,1002.6 266.8,992.5 247.7,1012.3" fill="#d3ff85"/><polygon points="555.5,1008.9 573.2,1003.3 554.8,990.3 537.1,995.6" fill="#c6ff1f"/><polygon points="300.6,1013.3 319.5,995 302.5,984.6 283.5,1002.6" fill="#e1ff7e"/><polygon points="683.3,1055.1 700.1,1054.4 681,1039.4 664.2,1039.8" fill="#1eff00"/><polygon points="519.1,1003 537.1,995.6 518.8,983 500.8,990" fill="#e0ff32"/><polygon points="336.8,1006.1 355.7,989.6 338.4,978.9 319.5,995" fill="#ecff77"/><polygon points="209.4,1058.4 228.6,1034.2 212.1,1024.1 192.9,1047.9" fill="#a5ff8c"/><polygon points="482.6,999.2 500.8,990 482.7,977.8 464.5,986.6" fill="#efff44"/><polygon points="373.1,1001.1 391.9,986.5 374.4,975.4 355.7,989.6" fill="#f3ff6d"/><polygon points="446.1,997.6 464.5,986.6 446.6,974.8 428.2,985.5" fill="#f6ff54"/><polygon points="409.6,998.3 428.2,985.5 410.5,974 391.9,986.5" fill="#f7ff61"/><polygon points="647.1,1042.3 664.2,1039.8 645.2,1025.2 628.1,1027.4" fill="#51ff00"/><polygon points="245.3,1045.1 264.5,1022.7 247.7,1012.3 228.6,1034.2" fill="#b9ff88"/><polygon points="738.7,1086.6 755.1,1087.2 735.7,1071 719.3,1070.1" fill="#00ff45"/><polygon points="610.7,1031.6 628.1,1027.4 609.3,1013.2 591.9,1017.1" fill="#82ff0b"/><polygon points="281.4,1033.9 300.6,1013.3 283.5,1002.6 264.5,1022.7" fill="#c9ff84"/><polygon points="574.2,1023 591.9,1017.1 573.2,1003.3 555.5,1008.9" fill="#abff1f"/><polygon points="702.6,1071.2 719.3,1070.1 700.1,1054.4 683.3,1055.1" fill="#00ff08"/><polygon points="317.8,1024.8 336.8,1006.1 319.5,995 300.6,1013.3" fill="#d5ff7e"/><polygon points="537.6,1016.7 555.5,1008.9 537.1,995.6 519.1,1003" fill="#c7ff32"/><polygon points="354.2,1018 373.1,1001.1 355.7,989.6 336.8,1006.1" fill="#dfff76"/><polygon points="226.1,1069.6 245.3,1045.1 228.6,1034.2 209.4,1058.4" fill="#9bff8b"/><polygon points="500.9,1012.5 519.1,1003 500.8,990 482.6,999.2" fill="#d9ff43"/><polygon points="390.8,1013.3 409.6,998.3 391.9,986.5 373.1,1001.1" fill="#e5ff6c"/><polygon points="464.2,1010.6 482.6,999.2 464.5,986.6 446.1,997.6" fill="#e3ff53"/><polygon points="427.5,1010.8 446.1,997.6 428.2,985.5 409.6,998.3" fill="#e7ff61"/><polygon points="666.2,1057.9 683.3,1055.1 664.2,1039.8 647.1,1042.3" fill="#2cff00"/><polygon points="262.2,1056.6 281.4,1033.9 264.5,1022.7 245.3,1045.1" fill="#aeff87"/><polygon points="629.7,1046.8 647.1,1042.3 628.1,1027.4 610.7,1031.6" fill="#60ff0b"/><polygon points="298.6,1045.7 317.8,1024.8 300.6,1013.3 281.4,1033.9" fill="#bdff83"/><polygon points="722.1,1088 738.7,1086.6 719.3,1070.1 702.6,1071.2" fill="#00ff31"/><polygon points="593,1037.9 610.7,1031.6 591.9,1017.1 574.2,1023" fill="#8dff1f"/><polygon points="335.2,1037 354.2,1018 336.8,1006.1 317.8,1024.8" fill="#c9ff7c"/><polygon points="556.2,1031.1 574.2,1023 555.5,1008.9 537.6,1016.7" fill="#adff32"/><polygon points="371.9,1030.5 390.8,1013.3 373.1,1001.1 354.2,1018" fill="#d1ff75"/><polygon points="519.4,1026.6 537.6,1016.7 519.1,1003 500.9,1012.5" fill="#c2ff43"/><polygon points="685.6,1074.4 702.6,1071.2 683.3,1055.1 666.2,1057.9" fill="#05ff00"/><polygon points="243,1081.6 262.2,1056.6 245.3,1045.1 226.1,1069.6" fill="#90ff89"/><polygon points="408.7,1026.2 427.5,1010.8 409.6,998.3 390.8,1013.3" fill="#d5ff6b"/><polygon points="482.5,1024.3 500.9,1012.5 482.6,999.2 464.2,1010.6" fill="#cfff52"/><polygon points="445.6,1024.1 464.2,1010.6 446.1,997.6 427.5,1010.8" fill="#d5ff60"/><polygon points="648.9,1062.8 666.2,1057.9 647.1,1042.3 629.7,1046.8" fill="#3cff0c"/><polygon points="279.4,1068.9 298.6,1045.7 281.4,1033.9 262.2,1056.6" fill="#a2ff86"/><polygon points="612.1,1053.5 629.7,1046.8 610.7,1031.6 593,1037.9" fill="#6dff1f"/><polygon points="316,1058.4 335.2,1037 317.8,1024.8 298.6,1045.7" fill="#b0ff81"/><polygon points="575.1,1046.4 593,1037.9 574.2,1023 556.2,1031.1" fill="#90ff32"/><polygon points="352.8,1050 371.9,1030.5 354.2,1018 335.2,1037" fill="#baff7b"/><polygon points="705.1,1091.6 722.1,1088 702.6,1071.2 685.6,1074.4" fill="#00ff24"/><polygon points="538.1,1041.4 556.2,1031.1 537.6,1016.7 519.4,1026.6" fill="#a9ff42"/><polygon points="389.8,1043.9 408.7,1026.2 390.8,1013.3 371.9,1030.5" fill="#c1ff74"/><polygon points="501,1038.7 519.4,1026.6 500.9,1012.5 482.5,1024.3" fill="#b9ff52"/><polygon points="426.8,1039.9 445.6,1024.1 427.5,1010.8 408.7,1026.2" fill="#c4ff6a"/><polygon points="260.1,1094.3 279.4,1068.9 262.2,1056.6 243,1081.6" fill="#88ff8d"/><polygon points="463.9,1038.2 482.5,1024.3 464.2,1010.6 445.6,1024.1" fill="#c1ff5f"/><polygon points="668.3,1079.6 685.6,1074.4 666.2,1057.9 648.9,1062.8" fill="#16ff0c"/><polygon points="296.8,1081.9 316,1058.4 298.6,1045.7 279.4,1068.9" fill="#94ff85"/><polygon points="631.3,1069.9 648.9,1062.8 629.7,1046.8 612.1,1053.5" fill="#4bff1f"/><polygon points="333.7,1071.7 352.8,1050 335.2,1037 316,1058.4" fill="#a1ff80"/><polygon points="594.2,1062.4 612.1,1053.5 593,1037.9 575.1,1046.4" fill="#72ff31"/><polygon points="370.7,1063.7 389.8,1043.9 371.9,1030.5 352.8,1050" fill="#abff7a"/><polygon points="557,1057 575.1,1046.4 556.2,1031.1 538.1,1041.4" fill="#8eff42"/><polygon points="407.9,1057.9 426.8,1039.9 408.7,1026.2 389.8,1043.9" fill="#b0ff72"/><polygon points="519.7,1053.9 538.1,1041.4 519.4,1026.6 501,1038.7" fill="#a1ff51"/><polygon points="445.1,1054.4 463.9,1038.2 445.6,1024.1 426.8,1039.9" fill="#b1ff69"/><polygon points="482.4,1053 501,1038.7 482.5,1024.3 463.9,1038.2" fill="#acff5e"/><polygon points="277.4,1107.8 296.8,1081.9 279.4,1068.9 260.1,1094.3" fill="#87ff98"/><polygon points="687.9,1097.2 705.1,1091.6 685.6,1074.4 668.3,1079.6" fill="#0cff2a"/><polygon points="314.4,1095.7 333.7,1071.7 316,1058.4 296.8,1081.9" fill="#85ff83"/><polygon points="650.7,1087.1 668.3,1079.6 648.9,1062.8 631.3,1069.9" fill="#26ff1f"/><polygon points="351.5,1085.9 370.7,1063.7 352.8,1050 333.7,1071.7" fill="#91ff7f"/><polygon points="613.4,1079.1 631.3,1069.9 612.1,1053.5 594.2,1062.4" fill="#52ff30"/><polygon points="388.8,1078.2 407.9,1057.9 389.8,1043.9 370.7,1063.7" fill="#99ff79"/><polygon points="576,1073.4 594.2,1062.4 575.1,1046.4 557,1057" fill="#71ff41"/><polygon points="426.1,1072.8 445.1,1054.4 426.8,1039.9 407.9,1057.9" fill="#9dff71"/><polygon points="538.6,1069.9 557,1057 538.1,1041.4 519.7,1053.9" fill="#87ff50"/><polygon points="463.6,1069.6 482.4,1053 463.9,1038.2 445.1,1054.4" fill="#9cff68"/><polygon points="501.1,1068.6 519.7,1053.9 501,1038.7 482.4,1053" fill="#95ff5d"/><polygon points="295,1122 314.4,1095.7 296.8,1081.9 277.4,1107.8" fill="#85ffa5"/><polygon points="670.3,1105 687.9,1097.2 668.3,1079.6 650.7,1087.1" fill="#1eff3d"/><polygon points="332.2,1110.3 351.5,1085.9 333.7,1071.7 314.4,1095.7" fill="#82ff8f"/><polygon points="632.9,1096.7 650.7,1087.1 631.3,1069.9 613.4,1079.1" fill="#30ff31"/><polygon points="369.5,1100.8 388.8,1078.2 370.7,1063.7 351.5,1085.9" fill="#80ff7d"/><polygon points="595.3,1090.6 613.4,1079.1 594.2,1062.4 576,1073.4" fill="#52ff40"/><polygon points="407,1093.5 426.1,1072.8 407.9,1057.9 388.8,1078.2" fill="#86ff77"/><polygon points="557.7,1086.7 576,1073.4 557,1057 538.6,1069.9" fill="#6bff4e"/><polygon points="444.6,1088.4 463.6,1069.6 445.1,1054.4 426.1,1072.8" fill="#88ff6f"/><polygon points="520,1085 538.6,1069.9 519.7,1053.9 501.1,1068.6" fill="#7cff5b"/><polygon points="482.3,1085.6 501.1,1068.6 482.4,1053 463.6,1069.6" fill="#85ff66"/><polygon points="312.8,1137 332.2,1110.3 314.4,1095.7 295,1122" fill="#84ffb3"/><polygon points="350.2,1125.6 369.5,1100.8 351.5,1085.9 332.2,1110.3" fill="#80ff9e"/><polygon points="652.5,1115 670.3,1105 650.7,1087.1 632.9,1096.7" fill="#2fff54"/><polygon points="387.8,1116.5 407,1093.5 388.8,1078.2 369.5,1100.8" fill="#7cff8a"/><polygon points="614.8,1108.5 632.9,1096.7 613.4,1079.1 595.3,1090.6" fill="#3fff4d"/><polygon points="425.5,1109.5 444.6,1088.4 426.1,1072.8 407,1093.5" fill="#75ff79"/><polygon points="577,1104.2 595.3,1090.6 576,1073.4 557.7,1086.7" fill="#4eff4d"/><polygon points="463.3,1104.8 482.3,1085.6 463.6,1069.6 444.6,1088.4" fill="#72ff6e"/><polygon points="539.1,1102.2 557.7,1086.7 538.6,1069.9 520,1085" fill="#61ff5a"/><polygon points="501.2,1102.4 520,1085 501.1,1068.6 482.3,1085.6" fill="#6dff65"/><polygon points="330.8,1152.8 350.2,1125.6 332.2,1110.3 312.8,1137" fill="#82ffc3"/><polygon points="368.4,1141.7 387.8,1116.5 369.5,1100.8 350.2,1125.6" fill="#7fffae"/><polygon points="406.2,1133 425.5,1109.5 407,1093.5 387.8,1116.5" fill="#7aff9c"/><polygon points="634.4,1127.3 652.5,1115 632.9,1096.7 614.8,1108.5" fill="#3eff6d"/><polygon points="444.2,1126.4 463.3,1104.8 444.6,1088.4 425.5,1109.5" fill="#74ff8c"/><polygon points="596.4,1122.6 614.8,1108.5 595.3,1090.6 577,1104.2" fill="#4cff6a"/><polygon points="482.2,1122.1 501.2,1102.4 482.3,1085.6 463.3,1104.8" fill="#6cff7f"/><polygon points="558.4,1120.2 577,1104.2 557.7,1086.7 539.1,1102.2" fill="#58ff6d"/><polygon points="520.3,1120 539.1,1102.2 520,1085 501.2,1102.4" fill="#63ff74"/><polygon points="348.9,1169.3 368.4,1141.7 350.2,1125.6 330.8,1152.8" fill="#81ffd4"/><polygon points="386.9,1158.7 406.2,1133 387.8,1116.5 368.4,1141.7" fill="#7dffc0"/><polygon points="424.9,1150.2 444.2,1126.4 425.5,1109.5 406.2,1133" fill="#78ffaf"/><polygon points="616.1,1141.8 634.4,1127.3 614.8,1108.5 596.4,1122.6" fill="#4aff89"/><polygon points="463.1,1144 482.2,1122.1 463.3,1104.8 444.2,1126.4" fill="#72ffa1"/><polygon points="577.9,1138.9 596.4,1122.6 577,1104.2 558.4,1120.2" fill="#57ff88"/><polygon points="501.3,1140.1 520.3,1120 501.2,1102.4 482.2,1122.1" fill="#6aff95"/><polygon points="539.6,1138.4 558.4,1120.2 539.1,1102.2 520.3,1120" fill="#61ff8d"/><polygon points="367.3,1186.7 386.9,1158.7 368.4,1141.7 348.9,1169.3" fill="#7fffe6"/><polygon points="405.5,1176.4 424.9,1150.2 406.2,1133 386.9,1158.7" fill="#7bffd4"/><polygon points="443.8,1168.3 463.1,1144 444.2,1126.4 424.9,1150.2" fill="#76ffc4"/><polygon points="482.2,1162.5 501.3,1140.1 482.2,1122.1 463.1,1144" fill="#70ffb7"/><polygon points="597.5,1158.5 616.1,1141.8 596.4,1122.6 577.9,1138.9" fill="#55ffa6"/><polygon points="520.6,1158.9 539.6,1138.4 520.3,1120 501.3,1140.1" fill="#69ffae"/><polygon points="559.1,1157.6 577.9,1138.9 558.4,1120.2 539.6,1138.4" fill="#60ffa8"/><polygon points="386,1204.8 405.5,1176.4 386.9,1158.7 367.3,1186.7" fill="#7dfffa"/><polygon points="424.3,1194.9 443.8,1168.3 424.9,1150.2 405.5,1176.4" fill="#79ffe9"/><polygon points="462.8,1187.2 482.2,1162.5 463.1,1144 443.8,1168.3" fill="#74ffdb"/><polygon points="501.4,1181.7 520.6,1158.9 501.3,1140.1 482.2,1162.5" fill="#6effd0"/><polygon points="540.1,1178.5 559.1,1157.6 539.6,1138.4 520.6,1158.9" fill="#67ffc8"/><polygon points="578.8,1177.6 597.5,1158.5 577.9,1138.9 559.1,1157.6" fill="#5effc5"/><polygon points="404.8,1223.8 424.3,1194.9 405.5,1176.4 386,1204.8" fill="#7beeff"/><polygon points="443.4,1214.2 462.8,1187.2 443.8,1168.3 424.3,1194.9" fill="#77feff"/><polygon points="482.1,1206.9 501.4,1181.7 482.2,1162.5 462.8,1187.2" fill="#72fff3"/><polygon points="520.9,1201.8 540.1,1178.5 520.6,1158.9 501.4,1181.7" fill="#6cffea"/><polygon points="559.8,1199 578.8,1177.6 559.1,1157.6 540.1,1178.5" fill="#65ffe5"/><polygon points="423.8,1243.6 443.4,1214.2 424.3,1194.9 404.8,1223.8" fill="#79d6ff"/><polygon points="462.6,1234.4 482.1,1206.9 462.8,1187.2 443.4,1214.2" fill="#75e5ff"/><polygon points="501.6,1227.4 520.9,1201.8 501.4,1181.7 482.1,1206.9" fill="#70f0ff"/><polygon points="540.6,1222.7 559.8,1199 540.1,1178.5 520.9,1201.8" fill="#6af8ff"/><polygon points="443,1264.2 462.6,1234.4 443.4,1214.2 423.8,1243.6" fill="#77bcff"/><polygon points="482.1,1255.4 501.6,1227.4 482.1,1206.9 462.6,1234.4" fill="#73caff"/><polygon points="521.2,1248.8 540.6,1222.7 520.9,1201.8 501.6,1227.4" fill="#6ed4ff"/><polygon points="462.4,1285.7 482.1,1255.4 462.6,1234.4 443,1264.2" fill="#76a1ff"/><polygon points="501.7,1277.2 521.2,1248.8 501.6,1227.4 482.1,1255.4" fill="#71adff"/><polygon points="482,1308 501.7,1277.2 482.1,1255.4 462.4,1285.7" fill="#7483ff"/></g><line x1="131.5" y1="262" x2="132.7" y2="277" stroke="#111" stroke-width="1.6" stroke-opacity="1"/><circle cx="131.3" cy="257" r="7.4" fill="#bf0000" stroke="#3a0000" stroke-width="1.1"/><circle cx="269.1" cy="218.4" r="7.4" fill="#bf0000" stroke="#3a0000" stroke-width="1.1"/><line x1="481.3" y1="224" x2="481.2" y2="237.4" stroke="#111" stroke-width="1.6" stroke-opacity="1"/><circle cx="481.4" cy="218.7" r="7.4" fill="#bf0000" stroke="#3a0000" stroke-width="1.1"/><line x1="667.4" y1="208" x2="667.8" y2="215.8" stroke="#111" stroke-width="1.6" stroke-opacity="1"/><circle cx="667.2" cy="202.6" r="7.4" fill="#bf0000" stroke="#3a0000" stroke-width="1.1"/><line x1="650.8" y1="335" x2="649.3" y2="390" stroke="#0a2a0a" stroke-width="1.5" stroke-opacity="0.8"/><circle cx="650.8" cy="330.3" r="7.4" fill="#bf0000" stroke="#3a0000" stroke-width="1.1"/><line x1="437.6" y1="434" x2="437.1" y2="408.8" stroke="#111" stroke-width="1.6" stroke-opacity="1"/><circle cx="437.7" cy="439.5" r="7.4" fill="#ffc6c6" stroke="#4a3434" stroke-width="1.1"/><line x1="337" y1="336" x2="335.9" y2="307" stroke="#111" stroke-width="1.6" stroke-opacity="1"/><circle cx="337.2" cy="341.4" r="7.4" fill="#ffc6c6" stroke="#4a3434" stroke-width="1.1"/><line x1="835.8" y1="360" x2="837.4" y2="333.6" stroke="#111" stroke-width="1.6" stroke-opacity="1"/><circle cx="835.6" cy="364.9" r="7.4" fill="#ffc6c6" stroke="#4a3434" stroke-width="1.1"/><line x1="483.7" y1="906" x2="483.7" y2="919.5" stroke="#111" stroke-width="1.6" stroke-opacity="1"/><line x1="483.6" y1="919.5" x2="483.5" y2="959" stroke="#333" stroke-width="1.4" stroke-opacity="0.35"/><circle cx="483.7" cy="900.7" r="7.4" fill="#bf0000" stroke="#3a0000" stroke-width="1.1"/><circle cx="483.4" cy="948" r="7.4" fill="#bf0000" stroke="#3a0000" stroke-width="1.1"/><line x1="296.7" y1="1134" x2="296.7" y2="1124.4" stroke="#111" stroke-width="1.6" stroke-opacity="1"/><circle cx="296.6" cy="1139.3" r="7.4" fill="#ffc6c6" stroke="#4a3434" stroke-width="1.1"/><line x1="669.5" y1="1154" x2="670.2" y2="1105.6" stroke="#111" stroke-width="1.6" stroke-opacity="1"/><circle cx="669.1" cy="1159.1" r="7.4" fill="#ffc6c6" stroke="#4a3434" stroke-width="1.1"/><line x1="833.5" y1="1090" x2="831.9" y2="1117.8" stroke="#111" stroke-width="1.6" stroke-opacity="1"/><circle cx="833.9" cy="1084.8" r="7.4" fill="#bf0000" stroke="#3a0000" stroke-width="1.1"/><line x1="483.4" y1="1297" x2="483.3" y2="1308" stroke="#4040a0" stroke-width="1.4" stroke-opacity="0.6"/><circle cx="483.4" cy="1291.7" r="7.4" fill="#bf0000" stroke="#3a0000" stroke-width="1.1"/><text x="4.2" y="85" text-anchor="start" font-size="29.5" fill="#000" font-weight="bold">A</text><text x="4.8" y="871" text-anchor="start" font-size="29.5" fill="#000" font-weight="bold">B</text><text x="111.9" y="91.7" text-anchor="end" font-size="16.5" fill="#3a3a3a" stroke="#3a3a3a" stroke-width="0.4">5.5</text><text x="115.5" y="158.4" text-anchor="end" font-size="16.5" fill="#3a3a3a" stroke="#3a3a3a" stroke-width="0.4">5</text><text x="120" y="225" text-anchor="end" font-size="16.5" fill="#3a3a3a" stroke="#3a3a3a" stroke-width="0.4">4.5</text><text x="124.5" y="291.7" text-anchor="end" font-size="16.5" fill="#3a3a3a" stroke="#3a3a3a" stroke-width="0.4">4</text><text x="128.5" y="358.3" text-anchor="end" font-size="16.5" fill="#3a3a3a" stroke="#3a3a3a" stroke-width="0.4">3.5</text><text x="133" y="425" text-anchor="end" font-size="16.5" fill="#3a3a3a" stroke="#3a3a3a" stroke-width="0.4">3</text><text x="137.8" y="552.6" text-anchor="end" font-size="16.5" fill="#3a3a3a" stroke="#3a3a3a" stroke-width="0.4">3</text><text x="211.2" y="602.9" text-anchor="end" font-size="16.5" fill="#3a3a3a" stroke="#3a3a3a" stroke-width="0.4">2.5</text><text x="284.7" y="652.9" text-anchor="end" font-size="16.5" fill="#3a3a3a" stroke="#3a3a3a" stroke-width="0.4">2</text><text x="357.2" y="703.4" text-anchor="end" font-size="16.5" fill="#3a3a3a" stroke="#3a3a3a" stroke-width="0.4">1.5</text><text x="429.7" y="755" text-anchor="end" font-size="16.5" fill="#3a3a3a" stroke="#3a3a3a" stroke-width="0.4">1</text><text x="546" y="712.9" text-anchor="start" font-size="16.5" fill="#3a3a3a" stroke="#3a3a3a" stroke-width="0.4">200</text><text x="640.6" y="670.6" text-anchor="start" font-size="16.5" fill="#3a3a3a" stroke="#3a3a3a" stroke-width="0.4">300</text><text x="735.9" y="628.9" text-anchor="start" font-size="16.5" fill="#3a3a3a" stroke="#3a3a3a" stroke-width="0.4">400</text><text x="831.9" y="588.5" text-anchor="start" font-size="16.5" fill="#3a3a3a" stroke="#3a3a3a" stroke-width="0.4">500</text><text x="452" y="754.5" text-anchor="start" font-size="16.5" fill="#3a3a3a" stroke="#3a3a3a" stroke-width="0.4">100</text><text x="120" y="696.2" text-anchor="start" font-size="16.5" fill="#3a3a3a" stroke="#3a3a3a" stroke-width="0.4">B: Passes</text><text x="678.6" y="730.6" font-size="16" fill="#3a3a3a" textLength="140.5" lengthAdjust="spacingAndGlyphs">A: Pressure (MPa)</text><text transform="translate(14,325.4) rotate(-90)" text-anchor="middle" font-size="17" fill="#3a3a3a" textLength="211" lengthAdjust="spacingAndGlyphs">Phycoerythrin Yield (mg/g)</text><text x="113.3" y="879.4" text-anchor="end" font-size="15.5" fill="#3a3a3a" stroke="#3a3a3a" stroke-width="0.4">5.8</text><text x="116" y="924.2" text-anchor="end" font-size="15.5" fill="#3a3a3a" stroke="#3a3a3a" stroke-width="0.4">5.6</text><text x="118" y="971.7" text-anchor="end" font-size="15.5" fill="#3a3a3a" stroke="#3a3a3a" stroke-width="0.4">5.4</text><text x="120.5" y="1018.2" text-anchor="end" font-size="15.5" fill="#3a3a3a" stroke="#3a3a3a" stroke-width="0.4">5.2</text><text x="123.5" y="1065.2" text-anchor="end" font-size="15.5" fill="#3a3a3a" stroke="#3a3a3a" stroke-width="0.4">5</text><text x="126" y="1112.2" text-anchor="end" font-size="15.5" fill="#3a3a3a" stroke="#3a3a3a" stroke-width="0.4">4.8</text><text x="128.5" y="1159.2" text-anchor="end" font-size="15.5" fill="#3a3a3a" stroke="#3a3a3a" stroke-width="0.4">4.6</text><text x="131" y="1205.2" text-anchor="end" font-size="15.5" fill="#3a3a3a" stroke="#3a3a3a" stroke-width="0.4">4.4</text><text x="134.4" y="1330.6" text-anchor="end" font-size="15.5" fill="#3a3a3a" stroke="#3a3a3a" stroke-width="0.4">3</text><text x="219.5" y="1367.6" text-anchor="end" font-size="15.5" fill="#3a3a3a" stroke="#3a3a3a" stroke-width="0.4">2.5</text><text x="303.5" y="1406.1" text-anchor="end" font-size="15.5" fill="#3a3a3a" stroke="#3a3a3a" stroke-width="0.4">2</text><text x="388.5" y="1443.6" text-anchor="end" font-size="15.5" fill="#3a3a3a" stroke="#3a3a3a" stroke-width="0.4">1.5</text><text x="473" y="1482.1" text-anchor="end" font-size="15.5" fill="#3a3a3a" stroke="#3a3a3a" stroke-width="0.4">1</text><text x="578" y="1443.6" text-anchor="start" font-size="15.5" fill="#3a3a3a" stroke="#3a3a3a" stroke-width="0.4">200</text><text x="661" y="1406.1" text-anchor="start" font-size="15.5" fill="#3a3a3a" stroke="#3a3a3a" stroke-width="0.4">300</text><text x="746" y="1367.6" text-anchor="start" font-size="15.5" fill="#3a3a3a" stroke="#3a3a3a" stroke-width="0.4">400</text><text x="831.4" y="1330.6" text-anchor="start" font-size="15.5" fill="#3a3a3a" stroke="#3a3a3a" stroke-width="0.4">500</text><text x="495.5" y="1481.5" text-anchor="start" font-size="15.5" fill="#3a3a3a" stroke="#3a3a3a" stroke-width="0.4">100</text><text x="148" y="1447.5" text-anchor="start" font-size="15.5" fill="#3a3a3a" stroke="#3a3a3a" stroke-width="0.4">B: Passes</text><text x="713.4" y="1446.6" font-size="15.5" fill="#3a3a3a" textLength="138" lengthAdjust="spacingAndGlyphs">A: Pressure (MPa)</text><text transform="translate(13.2,1103.9) rotate(-90)" text-anchor="middle" font-size="16" fill="#3a3a3a" textLength="196" lengthAdjust="spacingAndGlyphs">Phycoerythrin Yield (mg/g)</text></svg></body></html>
